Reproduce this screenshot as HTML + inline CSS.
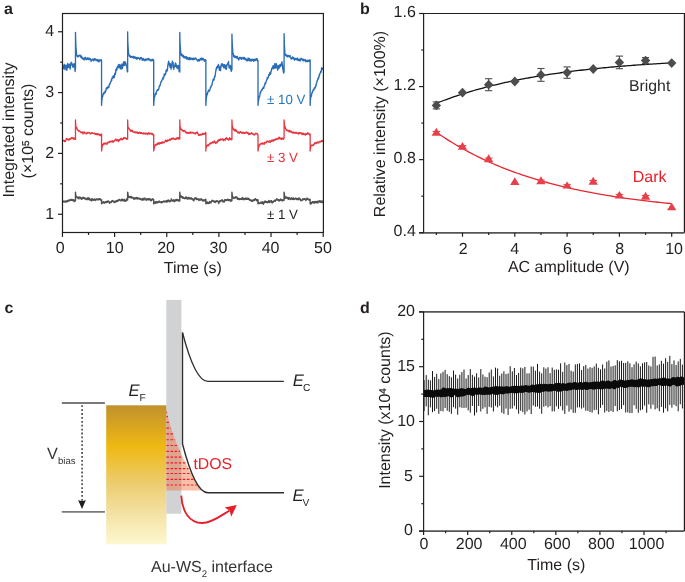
<!DOCTYPE html>
<html><head><meta charset="utf-8"><style>
html,body{margin:0;padding:0;background:#fff;overflow:hidden;}
svg{display:block;font-family:"Liberation Sans", sans-serif;text-rendering:geometricPrecision;will-change:transform;}
</style></head><body>
<svg width="685" height="582" viewBox="0 0 685 582">
<path d="M62.45,201.43 L62.58,201.76 L62.71,201.56 L62.84,201.23 L62.97,201.56 L63.1,201.6 L63.23,201.25 L63.36,201.39 L63.49,201.27 L63.62,201.29 L63.75,201.62 L63.88,201.48 L64.01,201.95 L64.14,201.69 L64.28,201.45 L64.41,201.22 L64.54,201.64 L64.67,201.72 L64.8,201.58 L64.93,201.62 L65.06,201.2 L65.19,201.56 L65.32,201.64 L65.45,201.28 L65.58,202.13 L65.71,201.67 L65.84,201.95 L65.97,201.9 L66.1,201.59 L66.23,201.44 L66.36,201.04 L66.49,200.96 L66.62,201.42 L66.75,201.53 L66.88,201.21 L67.01,201.13 L67.14,201.78 L67.27,201.72 L67.4,201.77 L67.53,201.22 L67.67,201.24 L67.8,200.69 L67.93,200.44 L68.06,201.2 L68.19,200.87 L68.32,200.61 L68.45,200.24 L68.58,200.17 L68.71,200.07 L68.84,200.33 L68.97,200.75 L69.1,200.6 L69.23,200.5 L69.36,200.64 L69.49,200.75 L69.62,200.34 L69.75,200.78 L69.88,200.52 L70.01,200.03 L70.14,199.56 L70.27,200.08 L70.4,199.96 L70.53,199.81 L70.66,200.35 L70.79,200.19 L70.92,200.09 L71.05,199.83 L71.19,199.79 L71.32,199.79 L71.45,200.21 L71.58,199.46 L71.71,200.31 L71.84,199.99 L71.97,200.02 L72.1,199.59 L72.23,200.17 L72.36,200.43 L72.49,199.7 L72.62,200.04 L72.75,199.97 L72.88,200.42 L73.01,200.02 L73.14,200.24 L73.27,199.86 L73.4,200.43 L73.53,200.47 L73.66,200.68 L73.79,199.89 L73.92,200.14 L74.05,200.36 L74.18,201.58 L74.31,200.52 L74.44,200.24 L74.57,200.2 L74.71,200.59 L74.84,201.1 L74.97,200.83 L75.1,200.68 L75.23,200.21 L75.36,200.45 L75.49,200.86 L75.49,192.34 L75.62,194 L75.75,195.31 L75.88,195.41 L76.01,195.84 L76.14,196.47 L76.27,196.98 L76.4,197.09 L76.53,196.96 L76.66,197.08 L76.79,196.8 L76.92,197.1 L77.05,196.81 L77.18,197.41 L77.31,197.76 L77.44,197.64 L77.57,197.29 L77.7,198 L77.83,197.87 L77.96,198.02 L78.09,197.55 L78.23,197.9 L78.36,197.66 L78.49,197.28 L78.62,197.95 L78.75,198.82 L78.88,198.82 L79.01,197.83 L79.14,198.09 L79.27,197.56 L79.4,197.38 L79.53,197.31 L79.66,197.03 L79.79,197.09 L79.92,197.23 L80.05,197.84 L80.18,197.29 L80.31,197.52 L80.44,197.68 L80.57,197.7 L80.7,198.48 L80.83,197.72 L80.96,198.72 L81.09,198.42 L81.22,198.38 L81.35,199.17 L81.48,198.33 L81.62,198.64 L81.75,198.37 L81.88,198.44 L82.01,198.15 L82.14,198.44 L82.27,197.88 L82.4,198.33 L82.53,198.35 L82.66,198.77 L82.79,198.73 L82.92,198.65 L83.05,198.13 L83.18,197.31 L83.31,197.56 L83.44,197.5 L83.57,197.52 L83.7,197.96 L83.83,198.05 L83.96,197.93 L84.09,198.17 L84.22,197.82 L84.35,198.53 L84.48,198.62 L84.61,198.7 L84.74,198.73 L84.87,198.34 L85,198.51 L85.14,198.76 L85.27,198.12 L85.4,198.79 L85.53,198.87 L85.66,199.19 L85.79,198.8 L85.92,198.85 L86.05,198.41 L86.18,198.5 L86.31,198.97 L86.44,198.71 L86.57,199.28 L86.7,199.49 L86.83,199.62 L86.96,199.28 L87.09,198.93 L87.22,198.9 L87.35,198.81 L87.48,198.21 L87.61,198.38 L87.74,198.1 L87.87,197.75 L88,198.5 L88.13,199.24 L88.26,199.53 L88.39,199.01 L88.53,199.05 L88.66,199.14 L88.79,198.53 L88.92,198.74 L89.05,198.04 L89.18,198.58 L89.31,198.84 L89.44,198.34 L89.57,198.48 L89.7,199.4 L89.83,199.68 L89.96,199.77 L90.09,200.18 L90.22,199.33 L90.35,199.77 L90.48,199.45 L90.61,199.74 L90.74,199.56 L90.87,200.07 L91,200.14 L91.13,200.39 L91.26,200.63 L91.39,200.36 L91.52,200.22 L91.65,199.95 L91.78,200.76 L91.91,199.89 L92.05,198.57 L92.18,198.78 L92.31,198.92 L92.44,199.05 L92.57,199.74 L92.7,199.6 L92.83,199.7 L92.96,199.61 L93.09,199.93 L93.22,200.26 L93.35,199.72 L93.48,200.07 L93.61,199.51 L93.74,199.99 L93.87,199.94 L94,199.61 L94.13,199.41 L94.26,199.01 L94.39,199.86 L94.52,199.68 L94.65,199.94 L94.78,199.28 L94.91,199.45 L95.04,200.23 L95.17,200.35 L95.3,200.44 L95.43,199.88 L95.57,200.06 L95.7,199.89 L95.83,199.49 L95.96,199.58 L96.09,199.16 L96.22,199.06 L96.35,199.22 L96.48,199.68 L96.61,199.18 L96.74,199.51 L96.87,199.45 L97,199.11 L97.13,199.15 L97.26,199.02 L97.39,199.7 L97.52,199.2 L97.65,199.4 L97.78,199.57 L97.91,199.3 L98.04,199.73 L98.17,199.26 L98.3,199.3 L98.43,198.92 L98.56,199.26 L98.69,199.63 L98.82,199.35 L98.95,199.65 L99.09,199.05 L99.22,199.24 L99.35,198.83 L99.48,198.88 L99.61,198.79 L99.74,198.74 L99.87,198.95 L100,198.66 L100.13,198.91 L100.26,199.67 L100.39,199.67 L100.52,199.48 L100.65,200.1 L100.78,199.88 L100.91,200.14 L101.04,199.84 L101.17,199.95 L101.3,200.19 L101.43,199.84 L101.56,199.95 L101.56,203.78 L101.69,203.69 L101.82,203.06 L101.95,202.2 L102.08,202.01 L102.21,202.2 L102.34,202.46 L102.48,202.4 L102.61,202.86 L102.74,202.59 L102.87,202.59 L103,202.85 L103.13,202.42 L103.26,202.22 L103.39,202.26 L103.52,201.74 L103.65,202.18 L103.78,202.89 L103.91,202.35 L104.04,202.39 L104.17,202.57 L104.3,203.15 L104.43,203.04 L104.56,202.83 L104.69,203.04 L104.82,202.72 L104.95,202.32 L105.08,202.05 L105.21,201.86 L105.34,202.23 L105.47,202.42 L105.6,202.3 L105.73,202.24 L105.86,202.17 L106,201.85 L106.13,201.9 L106.26,201.73 L106.39,201.44 L106.52,202 L106.65,201.93 L106.78,202.44 L106.91,202.36 L107.04,201.68 L107.17,201.72 L107.3,201.41 L107.43,201.35 L107.56,201.69 L107.69,202.13 L107.82,201.66 L107.95,201.46 L108.08,200.93 L108.21,201.27 L108.34,201.65 L108.47,201.24 L108.6,201.62 L108.73,201.22 L108.86,201.8 L108.99,201.64 L109.12,201.65 L109.25,201.67 L109.39,203.24 L109.52,202.47 L109.65,202.47 L109.78,202.29 L109.91,202.55 L110.04,202.37 L110.17,202.46 L110.3,202.47 L110.43,202.29 L110.56,202.46 L110.69,202.16 L110.82,202.03 L110.95,202.28 L111.08,201.77 L111.21,202.39 L111.34,202.31 L111.47,201.79 L111.6,201.18 L111.73,201.03 L111.86,200.99 L111.99,201.26 L112.12,200.54 L112.25,201.09 L112.38,201.27 L112.51,201.12 L112.64,200.81 L112.77,201.11 L112.91,201.1 L113.04,201.01 L113.17,201.03 L113.3,201.71 L113.43,201.16 L113.56,201.21 L113.69,201.18 L113.82,201.41 L113.95,201.76 L114.08,201.86 L114.21,201.92 L114.34,202.5 L114.47,202 L114.6,201.89 L114.73,201.94 L114.86,202.33 L114.99,201.67 L115.12,201.35 L115.25,201.79 L115.38,201.82 L115.51,201.75 L115.64,201.99 L115.77,201.44 L115.9,201.19 L116.03,201.47 L116.16,200.7 L116.29,201.11 L116.43,201.22 L116.56,201.38 L116.69,201.47 L116.82,201.02 L116.95,201.2 L117.08,201.27 L117.21,200.66 L117.34,200.5 L117.47,200.88 L117.6,201.36 L117.73,200.12 L117.86,200.33 L117.99,200.19 L118.12,200.21 L118.25,200.11 L118.38,200.72 L118.51,200.44 L118.64,200.57 L118.77,200.62 L118.9,200.09 L119.03,199.86 L119.16,199.63 L119.29,199.83 L119.42,199.53 L119.55,199.55 L119.68,199.49 L119.81,199.52 L119.95,199.93 L120.08,199.95 L120.21,200.21 L120.34,200.04 L120.47,200.04 L120.6,200.14 L120.73,200.21 L120.86,200.44 L120.99,200.9 L121.12,199.88 L121.25,200.59 L121.38,199.89 L121.51,200.33 L121.64,199.66 L121.77,199.22 L121.9,199.72 L122.03,199.08 L122.16,199.29 L122.29,199.29 L122.42,199.68 L122.55,200.05 L122.68,200.08 L122.81,200.09 L122.94,200.82 L123.07,200.34 L123.2,200.1 L123.34,200.59 L123.47,200.77 L123.6,200.51 L123.73,200.66 L123.86,200.77 L123.99,200.57 L124.12,199.35 L124.25,199.29 L124.38,199.79 L124.51,200.28 L124.64,200.63 L124.77,200.57 L124.9,200.26 L125.03,201.18 L125.16,200.85 L125.29,200.51 L125.42,200.95 L125.55,201.15 L125.68,200.88 L125.81,200.43 L125.94,201.08 L126.07,201.01 L126.2,200.91 L126.33,200.24 L126.46,200.21 L126.59,198.93 L126.72,199.64 L126.86,199.87 L126.99,199.96 L127.12,199.27 L127.25,200.13 L127.38,199.35 L127.51,199.44 L127.64,199.96 L127.64,192.34 L127.77,192.42 L127.9,194.24 L128.03,194.58 L128.16,196.44 L128.29,196.3 L128.42,197.02 L128.55,197.17 L128.68,196.65 L128.81,196.36 L128.94,196.65 L129.07,196.42 L129.2,196.57 L129.33,196.73 L129.46,197.38 L129.59,197.48 L129.72,196.7 L129.85,196.91 L129.98,196.95 L130.11,197.06 L130.25,197.12 L130.38,197.56 L130.51,196.83 L130.64,196.86 L130.77,196.81 L130.9,196.99 L131.03,196.38 L131.16,197.35 L131.29,197.22 L131.42,197.72 L131.55,197.82 L131.68,197.59 L131.81,197.19 L131.94,198 L132.07,198.02 L132.2,197.24 L132.33,197.77 L132.46,197.88 L132.59,197.73 L132.72,197.94 L132.85,197.77 L132.98,198.04 L133.11,197.59 L133.24,197.61 L133.37,198.02 L133.5,198.02 L133.63,198.22 L133.77,198.77 L133.9,198.76 L134.03,199.23 L134.16,198.12 L134.29,198.17 L134.42,198.45 L134.55,197.88 L134.68,198.42 L134.81,198.64 L134.94,198.08 L135.07,198.31 L135.2,197.86 L135.33,198.41 L135.46,198.73 L135.59,198.74 L135.72,198.32 L135.85,198.25 L135.98,198.06 L136.11,197.75 L136.24,198.26 L136.37,198.38 L136.5,198.05 L136.63,197.71 L136.76,198.37 L136.89,197.5 L137.02,198.48 L137.15,198.48 L137.29,198.41 L137.42,198.98 L137.55,198.83 L137.68,198.63 L137.81,197.94 L137.94,198.45 L138.07,198.24 L138.2,198.49 L138.33,198.45 L138.46,198.49 L138.59,198.75 L138.72,198.16 L138.85,198.09 L138.98,198.5 L139.11,198.66 L139.24,198.36 L139.37,198.95 L139.5,198.76 L139.63,198.48 L139.76,198.81 L139.89,199.33 L140.02,199.36 L140.15,198.86 L140.28,198.92 L140.41,198.75 L140.54,198.8 L140.68,199.04 L140.81,198.6 L140.94,198.97 L141.07,199.12 L141.2,199.04 L141.33,198.96 L141.46,199.84 L141.59,199.57 L141.72,199.98 L141.85,199.59 L141.98,199.26 L142.11,199.6 L142.24,199.47 L142.37,199.94 L142.5,198.68 L142.63,198.86 L142.76,199.03 L142.89,198.52 L143.02,198.62 L143.15,198.88 L143.28,198.53 L143.41,199 L143.54,199.43 L143.67,199.36 L143.8,199.64 L143.93,200.06 L144.06,199.38 L144.2,199.03 L144.33,198.75 L144.46,198.62 L144.59,198.39 L144.72,198.53 L144.85,197.9 L144.98,198.1 L145.11,198.54 L145.24,198.94 L145.37,199.05 L145.5,199.02 L145.63,199.22 L145.76,199.28 L145.89,199.56 L146.02,200 L146.15,199.98 L146.28,200.19 L146.41,199.08 L146.54,199.97 L146.67,199.31 L146.8,199.36 L146.93,199.45 L147.06,199.19 L147.19,199.22 L147.32,198.74 L147.45,199.36 L147.58,199.17 L147.72,199.03 L147.85,199.1 L147.98,199.99 L148.11,199.75 L148.24,199.64 L148.37,198.98 L148.5,199.05 L148.63,198.83 L148.76,198.87 L148.89,198.84 L149.02,198.87 L149.15,198.96 L149.28,199.74 L149.41,199.58 L149.54,198.74 L149.67,199.06 L149.8,199.53 L149.93,199.31 L150.06,199.59 L150.19,199.74 L150.32,199.08 L150.45,199.8 L150.58,200.08 L150.71,199.92 L150.84,200.17 L150.97,200.8 L151.11,200.24 L151.24,200.8 L151.37,200.28 L151.5,199.63 L151.63,200.5 L151.76,200.38 L151.89,199.6 L152.02,199.54 L152.15,199.08 L152.28,199.16 L152.41,198.97 L152.54,199.28 L152.67,198.95 L152.8,198.86 L152.93,198.98 L153.06,199.43 L153.19,199.56 L153.32,199.29 L153.45,199.72 L153.58,199.64 L153.71,199.8 L153.71,203.78 L153.84,202.99 L153.97,202.28 L154.1,202.9 L154.23,202.94 L154.36,202.78 L154.49,202.82 L154.63,202.72 L154.76,203 L154.89,202.85 L155.02,203.12 L155.15,202.48 L155.28,202.17 L155.41,201.78 L155.54,201.87 L155.67,202.92 L155.8,202.55 L155.93,203.24 L156.06,202.56 L156.19,202.26 L156.32,201.84 L156.45,202.11 L156.58,201.78 L156.71,201.66 L156.84,201.85 L156.97,201.62 L157.1,201.82 L157.23,201.8 L157.36,202.11 L157.49,202.5 L157.62,202.26 L157.75,202.19 L157.88,202.8 L158.01,202.41 L158.15,202.19 L158.28,202.16 L158.41,202.3 L158.54,201.98 L158.67,201.39 L158.8,201.87 L158.93,201.27 L159.06,200.93 L159.19,201.4 L159.32,202.14 L159.45,201.51 L159.58,201.87 L159.71,201.8 L159.84,201.72 L159.97,202.24 L160.1,202.18 L160.23,202.2 L160.36,202.02 L160.49,201.91 L160.62,202.28 L160.75,202.35 L160.88,202.56 L161.01,202.42 L161.14,202.14 L161.27,202.69 L161.4,201.69 L161.53,201.84 L161.67,202 L161.8,202.17 L161.93,201.95 L162.06,202.15 L162.19,201.71 L162.32,202.52 L162.45,202.24 L162.58,201.86 L162.71,201.98 L162.84,201.69 L162.97,201.51 L163.1,201.85 L163.23,201.71 L163.36,201.21 L163.49,201.39 L163.62,201.31 L163.75,201.16 L163.88,201.42 L164.01,201.64 L164.14,201.43 L164.27,201.85 L164.4,201.41 L164.53,201.26 L164.66,201.31 L164.79,201.04 L164.92,201.92 L165.06,201.52 L165.19,201.4 L165.32,201.72 L165.45,201.45 L165.58,201.76 L165.71,201.61 L165.84,201.8 L165.97,200.97 L166.1,201.64 L166.23,201.11 L166.36,200.81 L166.49,201.37 L166.62,201.37 L166.75,201.93 L166.88,201.98 L167.01,200.99 L167.14,200.65 L167.27,200.39 L167.4,200.83 L167.53,200.4 L167.66,201.39 L167.79,201.66 L167.92,201.3 L168.05,200.99 L168.18,200.54 L168.31,200.04 L168.44,200.33 L168.58,201.02 L168.71,200.74 L168.84,200.68 L168.97,200.58 L169.1,200.51 L169.23,200.67 L169.36,200.75 L169.49,200.73 L169.62,201.25 L169.75,201.45 L169.88,201.92 L170.01,201.43 L170.14,201.6 L170.27,201.16 L170.4,200.6 L170.53,200.58 L170.66,200.63 L170.79,200.38 L170.92,200.38 L171.05,200.56 L171.18,199.96 L171.31,198.88 L171.44,199.97 L171.57,200.27 L171.7,200.47 L171.83,200.16 L171.97,200.9 L172.1,201.02 L172.23,200.83 L172.36,200.88 L172.49,200.45 L172.62,200.18 L172.75,200.84 L172.88,200.77 L173.01,200.26 L173.14,201.12 L173.27,199.99 L173.4,199.94 L173.53,200.27 L173.66,200 L173.79,201.05 L173.92,200.48 L174.05,200.77 L174.18,201.02 L174.31,201.54 L174.44,201.49 L174.57,200.89 L174.7,201.43 L174.83,200.78 L174.96,200.86 L175.09,199.98 L175.22,200.99 L175.35,200.52 L175.49,200.81 L175.62,200.6 L175.75,200.16 L175.88,200.55 L176.01,199.53 L176.14,200.51 L176.27,200.33 L176.4,200.28 L176.53,200.07 L176.66,200.39 L176.79,200.62 L176.92,199.83 L177.05,199.37 L177.18,200.14 L177.31,199.82 L177.44,200.09 L177.57,200.28 L177.7,199.62 L177.83,199.62 L177.96,199.9 L178.09,200.76 L178.22,200.44 L178.35,200.14 L178.48,200.19 L178.61,199.89 L178.74,200 L178.87,200.23 L179.01,201.07 L179.14,199.96 L179.27,200.46 L179.4,200.68 L179.53,201.02 L179.66,200.68 L179.79,200.65 L179.79,192.34 L179.92,193.64 L180.05,195.27 L180.18,195.39 L180.31,196.71 L180.44,197.21 L180.57,195.96 L180.7,196.3 L180.83,196.67 L180.96,195.93 L181.09,196 L181.22,196.71 L181.35,196.46 L181.48,196.43 L181.61,196.94 L181.74,197.14 L181.87,197.46 L182,197.47 L182.13,197.35 L182.26,197.34 L182.39,196.76 L182.53,197.12 L182.66,197.86 L182.79,198.05 L182.92,198.26 L183.05,198.37 L183.18,198.34 L183.31,198.27 L183.44,197.45 L183.57,197.5 L183.7,197.33 L183.83,197.53 L183.96,197.5 L184.09,197.85 L184.22,198.03 L184.35,198.01 L184.48,198.32 L184.61,198.48 L184.74,198.77 L184.87,198.7 L185,198.39 L185.13,198.28 L185.26,198.09 L185.39,198.39 L185.52,198.18 L185.65,197.45 L185.78,198.07 L185.92,197.01 L186.05,197.62 L186.18,197.63 L186.31,197.45 L186.44,197.37 L186.57,197.69 L186.7,198.51 L186.83,198.02 L186.96,197.46 L187.09,197.96 L187.22,198.48 L187.35,199.04 L187.48,198.18 L187.61,198.18 L187.74,198.58 L187.87,198.08 L188,197.94 L188.13,198.68 L188.26,198.39 L188.39,198.16 L188.52,198.77 L188.65,197.93 L188.78,197.61 L188.91,197.75 L189.04,197.49 L189.17,198.22 L189.3,198.5 L189.44,198.78 L189.57,198.69 L189.7,198.18 L189.83,198.34 L189.96,198.35 L190.09,198.37 L190.22,198.4 L190.35,198.24 L190.48,198.04 L190.61,198.93 L190.74,198.77 L190.87,198.84 L191,198.91 L191.13,198.1 L191.26,198.26 L191.39,197.94 L191.52,199.06 L191.65,198.48 L191.78,198.99 L191.91,198.99 L192.04,198.77 L192.17,198.91 L192.3,199.09 L192.43,199.15 L192.56,199.24 L192.69,198.65 L192.82,198.75 L192.96,199.2 L193.09,200.08 L193.22,200.22 L193.35,200.13 L193.48,200.18 L193.61,200.41 L193.74,200.63 L193.87,200.85 L194,199.76 L194.13,199.61 L194.26,199.65 L194.39,199.04 L194.52,199.4 L194.65,198.9 L194.78,198.47 L194.91,198.09 L195.04,198.45 L195.17,198.1 L195.3,198.09 L195.43,198.13 L195.56,198.52 L195.69,197.62 L195.82,198.06 L195.95,198.58 L196.08,198.41 L196.21,199.01 L196.35,198.89 L196.48,198.33 L196.61,199.29 L196.74,199.07 L196.87,199.51 L197,199.28 L197.13,199.07 L197.26,198.92 L197.39,199.14 L197.52,198.89 L197.65,199.25 L197.78,198.96 L197.91,199.09 L198.04,198.94 L198.17,199.61 L198.3,199.27 L198.43,198.87 L198.56,199.41 L198.69,199.88 L198.82,200.21 L198.95,200.54 L199.08,200.4 L199.21,199.87 L199.34,199.89 L199.47,199.61 L199.6,199.62 L199.73,199.1 L199.87,199.17 L200,199.69 L200.13,199.8 L200.26,199.68 L200.39,199.41 L200.52,199.8 L200.65,200.12 L200.78,199.46 L200.91,199.5 L201.04,199.71 L201.17,198.85 L201.3,199.84 L201.43,199.69 L201.56,199 L201.69,199.7 L201.82,199.68 L201.95,200.09 L202.08,199.98 L202.21,199.94 L202.34,200.37 L202.47,200.29 L202.6,199.93 L202.73,200.56 L202.86,200.26 L202.99,201.03 L203.12,200.48 L203.25,200.63 L203.39,200.89 L203.52,200.64 L203.65,200.11 L203.78,200.34 L203.91,199.93 L204.04,200.26 L204.17,200.48 L204.3,199.97 L204.43,200.47 L204.56,200.27 L204.69,200.66 L204.82,200.56 L204.95,200.59 L205.08,200.67 L205.21,200 L205.34,199.71 L205.47,199.99 L205.6,199.15 L205.73,199.34 L205.86,199.46 L205.86,203.78 L205.99,202.51 L206.12,202.34 L206.25,202.73 L206.38,202.31 L206.51,202.71 L206.64,203.01 L206.78,203.59 L206.91,203.09 L207.04,202.84 L207.17,202.75 L207.3,202.04 L207.43,202.93 L207.56,202.36 L207.69,202.88 L207.82,202.48 L207.95,203.18 L208.08,203.17 L208.21,203.37 L208.34,203.6 L208.47,203.42 L208.6,203.05 L208.73,203.3 L208.86,202.6 L208.99,202.6 L209.12,202.65 L209.25,203.33 L209.38,202.55 L209.51,201.5 L209.64,202.02 L209.77,202.43 L209.9,202.42 L210.03,202.56 L210.16,202.65 L210.3,202.41 L210.43,202.84 L210.56,202.29 L210.69,202.05 L210.82,202.65 L210.95,202.29 L211.08,202.76 L211.21,201.94 L211.34,201.53 L211.47,201.47 L211.6,201.21 L211.73,200.87 L211.86,201.03 L211.99,201.02 L212.12,200.84 L212.25,200.28 L212.38,200.34 L212.51,200.94 L212.64,201 L212.77,201.15 L212.9,200.81 L213.03,200.93 L213.16,200.85 L213.29,200.92 L213.42,201.18 L213.55,201.14 L213.69,201.57 L213.82,201.48 L213.95,200.92 L214.08,201.92 L214.21,201.64 L214.34,202.05 L214.47,201.8 L214.6,201.74 L214.73,201.65 L214.86,201.99 L214.99,202.21 L215.12,201.67 L215.25,201.27 L215.38,202.26 L215.51,202.47 L215.64,202.03 L215.77,202.25 L215.9,201.43 L216.03,201.28 L216.16,201.12 L216.29,200.98 L216.42,200.87 L216.55,201.05 L216.68,201.35 L216.81,201.33 L216.94,201.18 L217.07,201.25 L217.21,201.05 L217.34,200.69 L217.47,201.03 L217.6,200.93 L217.73,201.24 L217.86,201.16 L217.99,201.14 L218.12,201.62 L218.25,201.79 L218.38,201.92 L218.51,202.86 L218.64,202.61 L218.77,203.45 L218.9,202.3 L219.03,202.67 L219.16,201.43 L219.29,201.97 L219.42,201.65 L219.55,201.89 L219.68,201.65 L219.81,201.22 L219.94,201.2 L220.07,200.43 L220.2,200.9 L220.33,201.04 L220.46,200.84 L220.59,201.43 L220.73,200.89 L220.86,200.83 L220.99,200.73 L221.12,200.67 L221.25,200.42 L221.38,200.65 L221.51,200.39 L221.64,200.75 L221.77,200.78 L221.9,200.56 L222.03,199.84 L222.16,199.75 L222.29,200.22 L222.42,199.94 L222.55,200.61 L222.68,201.78 L222.81,201.39 L222.94,200.72 L223.07,200.73 L223.2,200.86 L223.33,201.38 L223.46,201.09 L223.59,201.71 L223.72,201.8 L223.85,201.94 L223.98,201.54 L224.12,201.97 L224.25,201.52 L224.38,201.04 L224.51,201.12 L224.64,200.86 L224.77,200.76 L224.9,199.51 L225.03,199.93 L225.16,200.47 L225.29,200.04 L225.42,200.16 L225.55,200.4 L225.68,200.13 L225.81,199.82 L225.94,200.02 L226.07,200.38 L226.2,200.58 L226.33,200.23 L226.46,199.9 L226.59,199.67 L226.72,200.09 L226.85,199.97 L226.98,199.96 L227.11,200.04 L227.24,199.92 L227.37,199.68 L227.5,199.17 L227.64,199.32 L227.77,199.31 L227.9,200.23 L228.03,200.52 L228.16,199.41 L228.29,200.13 L228.42,200.56 L228.55,199.99 L228.68,199.87 L228.81,200.06 L228.94,199.83 L229.07,199.72 L229.2,200.3 L229.33,199.76 L229.46,199.78 L229.59,200.46 L229.72,199.74 L229.85,200.08 L229.98,200.42 L230.11,200.61 L230.24,200.12 L230.37,200.96 L230.5,199.79 L230.63,200.45 L230.76,200.61 L230.89,201 L231.02,200.86 L231.16,200.36 L231.29,200.39 L231.42,200.99 L231.55,200.92 L231.68,200.16 L231.81,199.98 L231.94,200.6 L231.94,192.34 L232.07,193.82 L232.2,195.08 L232.33,195.83 L232.46,197.19 L232.59,196.8 L232.72,196.48 L232.85,196.63 L232.98,197.75 L233.11,197.73 L233.24,197.58 L233.37,197.51 L233.5,197.4 L233.63,197.76 L233.76,197.96 L233.89,198.4 L234.02,198.1 L234.15,197.8 L234.28,198.32 L234.41,197.96 L234.55,198.09 L234.68,197.53 L234.81,197.78 L234.94,197.4 L235.07,197.94 L235.2,197.89 L235.33,197.29 L235.46,196.97 L235.59,197.56 L235.72,197.59 L235.85,197.58 L235.98,197.65 L236.11,196.75 L236.24,197.18 L236.37,196.91 L236.5,197.28 L236.63,197.13 L236.76,197.39 L236.89,197.22 L237.02,197.27 L237.15,197.62 L237.28,198.93 L237.41,198.84 L237.54,197.99 L237.67,198.54 L237.8,198.77 L237.93,198.68 L238.07,199.18 L238.2,198.76 L238.33,198.8 L238.46,198.88 L238.59,198.5 L238.72,198.58 L238.85,198.85 L238.98,199.42 L239.11,199.36 L239.24,199.02 L239.37,199.54 L239.5,198.7 L239.63,199.36 L239.76,198.84 L239.89,198.58 L240.02,198.75 L240.15,198.77 L240.28,199.06 L240.41,198.76 L240.54,199.12 L240.67,199.22 L240.8,199.01 L240.93,199.35 L241.06,198.77 L241.19,198.79 L241.32,199.2 L241.45,199.14 L241.59,198.79 L241.72,198.62 L241.85,198.86 L241.98,199.5 L242.11,198.89 L242.24,198.84 L242.37,198.17 L242.5,197.56 L242.63,198.78 L242.76,198.33 L242.89,198.99 L243.02,198.56 L243.15,198.73 L243.28,199.16 L243.41,199.22 L243.54,198.44 L243.67,198.96 L243.8,199.46 L243.93,199.07 L244.06,198.54 L244.19,199.71 L244.32,199.04 L244.45,199.16 L244.58,198.98 L244.71,199.06 L244.84,199.23 L244.98,199.1 L245.11,199.15 L245.24,199.26 L245.37,198.61 L245.5,198.16 L245.63,198.13 L245.76,198.23 L245.89,198.22 L246.02,198.34 L246.15,199.14 L246.28,198.24 L246.41,198.78 L246.54,199.39 L246.67,199.39 L246.8,198.74 L246.93,198.97 L247.06,198.64 L247.19,198.88 L247.32,198.25 L247.45,198.64 L247.58,198.54 L247.71,198.85 L247.84,198.8 L247.97,199.29 L248.1,198.79 L248.23,198.27 L248.36,198.99 L248.5,199.24 L248.63,199.16 L248.76,199.55 L248.89,199.11 L249.02,199.28 L249.15,198.93 L249.28,199.23 L249.41,199.42 L249.54,199.74 L249.67,199.97 L249.8,200.19 L249.93,200.41 L250.06,199.98 L250.19,200.55 L250.32,199.76 L250.45,199.98 L250.58,200.17 L250.71,200.59 L250.84,200.17 L250.97,200.32 L251.1,200.34 L251.23,200.41 L251.36,200.06 L251.49,200.83 L251.62,200.49 L251.75,200.65 L251.88,201.34 L252.02,200.79 L252.15,200.58 L252.28,200.44 L252.41,200.71 L252.54,200.82 L252.67,200.75 L252.8,201.13 L252.93,200.15 L253.06,200.72 L253.19,200.27 L253.32,199.86 L253.45,199.7 L253.58,200.04 L253.71,200.23 L253.84,200.22 L253.97,199.67 L254.1,199.85 L254.23,200.05 L254.36,200.5 L254.49,199.96 L254.62,199.81 L254.75,200 L254.88,199.1 L255.01,198.88 L255.14,199.7 L255.27,199.75 L255.4,198.84 L255.54,199.18 L255.67,199.28 L255.8,199.65 L255.93,199.27 L256.06,199.26 L256.19,199.89 L256.32,200.03 L256.45,200.08 L256.58,200.27 L256.71,199.9 L256.84,199.96 L256.97,199.63 L257.1,200.66 L257.23,200.84 L257.36,201.44 L257.49,200.71 L257.62,200.12 L257.75,199.78 L257.88,199.66 L258.01,199.96 L258.01,203.78 L258.14,203.21 L258.27,202.78 L258.4,202.72 L258.53,202.6 L258.66,202.63 L258.79,203.12 L258.93,203.3 L259.06,203.28 L259.19,203.15 L259.32,203.53 L259.45,203.56 L259.58,203.32 L259.71,203.39 L259.84,202.96 L259.97,203.17 L260.1,203.16 L260.23,203.18 L260.36,203.22 L260.49,202.86 L260.62,202.32 L260.75,202.89 L260.88,202.64 L261.01,202.3 L261.14,202.56 L261.27,202.46 L261.4,202.67 L261.53,202.67 L261.66,203.01 L261.79,203.1 L261.92,203.51 L262.05,202.92 L262.18,201.84 L262.31,201.81 L262.45,202.09 L262.58,202.65 L262.71,202.25 L262.84,202.92 L262.97,203.06 L263.1,203.48 L263.23,203.65 L263.36,204.19 L263.49,203.35 L263.62,202.71 L263.75,203.17 L263.88,201.97 L264.01,202.96 L264.14,202.52 L264.27,202.08 L264.4,202.18 L264.53,202.76 L264.66,202.27 L264.79,201.33 L264.92,201.76 L265.05,202.07 L265.18,200.94 L265.31,201.55 L265.44,201.39 L265.57,202.1 L265.7,201.38 L265.83,202 L265.97,201.7 L266.1,202.48 L266.23,202.05 L266.36,201.8 L266.49,201.76 L266.62,202.17 L266.75,201.67 L266.88,201.62 L267.01,201.69 L267.14,201.53 L267.27,201.61 L267.4,202.31 L267.53,202.6 L267.66,202.16 L267.79,202.14 L267.92,202.34 L268.05,202.64 L268.18,202.06 L268.31,201.79 L268.44,201.57 L268.57,201.25 L268.7,201.24 L268.83,200.55 L268.96,201.73 L269.09,201.64 L269.22,201.41 L269.36,200.84 L269.49,201.39 L269.62,202.44 L269.75,201.58 L269.88,202.24 L270.01,201.78 L270.14,202.09 L270.27,202.04 L270.4,201.16 L270.53,201.58 L270.66,201.07 L270.79,201.05 L270.92,201.22 L271.05,200.71 L271.18,201.28 L271.31,201.06 L271.44,201.4 L271.57,200.74 L271.7,201.8 L271.83,202.5 L271.96,202.13 L272.09,201.38 L272.22,202.29 L272.35,202.84 L272.48,202.55 L272.61,202.52 L272.74,202.19 L272.88,201.63 L273.01,202.24 L273.14,202.11 L273.27,201.56 L273.4,201.68 L273.53,201.44 L273.66,201.3 L273.79,200.92 L273.92,200.96 L274.05,200.85 L274.18,200.94 L274.31,200.82 L274.44,200.58 L274.57,200.36 L274.7,200.17 L274.83,200.15 L274.96,200.1 L275.09,200.69 L275.22,200.77 L275.35,201.3 L275.48,200.85 L275.61,200.67 L275.74,200.17 L275.87,200.08 L276,200.16 L276.13,200.18 L276.26,199.64 L276.4,199.77 L276.53,198.97 L276.66,199.49 L276.79,199.09 L276.92,199.48 L277.05,199.46 L277.18,199.4 L277.31,199.21 L277.44,199.5 L277.57,199.88 L277.7,199.41 L277.83,199.91 L277.96,200.18 L278.09,200.36 L278.22,200.24 L278.35,200.06 L278.48,199.62 L278.61,200.38 L278.74,200.24 L278.87,200.77 L279,200.75 L279.13,201.02 L279.26,200.13 L279.39,200.81 L279.52,200.53 L279.65,199.97 L279.79,200.06 L279.92,200.27 L280.05,200.55 L280.18,199.27 L280.31,199.13 L280.44,199.58 L280.57,199.15 L280.7,199.58 L280.83,199.6 L280.96,199.42 L281.09,200 L281.22,199.74 L281.35,199.99 L281.48,199.77 L281.61,199.71 L281.74,200.44 L281.87,200.31 L282,200.37 L282.13,200.2 L282.26,200.54 L282.39,200.75 L282.52,200.06 L282.65,200.87 L282.78,199.7 L282.91,200.5 L283.04,200 L283.17,199.97 L283.31,199.93 L283.44,199.95 L283.57,199.89 L283.7,199.78 L283.83,199.95 L283.96,200.25 L284.09,199.92 L284.09,192.34 L284.22,193.77 L284.35,194.24 L284.48,195.37 L284.61,196.41 L284.74,197.05 L284.87,197.17 L285,197.32 L285.13,197.22 L285.26,198.23 L285.39,197.13 L285.52,197.12 L285.65,196.96 L285.78,197.04 L285.91,197.34 L286.04,197.16 L286.17,196.88 L286.3,196.93 L286.43,197.67 L286.56,197.22 L286.69,197.6 L286.83,197.21 L286.96,197.95 L287.09,198.32 L287.22,198.17 L287.35,197.91 L287.48,198.45 L287.61,197.99 L287.74,197.68 L287.87,198.29 L288,198.33 L288.13,198.38 L288.26,198.91 L288.39,198.75 L288.52,199.36 L288.65,198.49 L288.78,198.37 L288.91,198.18 L289.04,197.55 L289.17,197.85 L289.3,198.58 L289.43,197.97 L289.56,198.83 L289.69,198.55 L289.82,198.35 L289.95,198.85 L290.08,198.98 L290.22,198.52 L290.35,198.79 L290.48,199.07 L290.61,199.48 L290.74,199.54 L290.87,199.43 L291,199.14 L291.13,198.93 L291.26,198.03 L291.39,198.49 L291.52,198.36 L291.65,198.01 L291.78,198.39 L291.91,198.6 L292.04,198.59 L292.17,198.42 L292.3,198.65 L292.43,198.63 L292.56,199.39 L292.69,198.67 L292.82,198.69 L292.95,199.26 L293.08,199.38 L293.21,198.59 L293.34,197.96 L293.47,198.59 L293.6,198.46 L293.74,198.62 L293.87,198.84 L294,199.35 L294.13,199.52 L294.26,199.07 L294.39,198.85 L294.52,199.02 L294.65,199.11 L294.78,199.09 L294.91,198.53 L295.04,198.82 L295.17,198.53 L295.3,198.56 L295.43,198.18 L295.56,198.57 L295.69,198.55 L295.82,198.16 L295.95,198.67 L296.08,198.42 L296.21,198.41 L296.34,198.74 L296.47,199.32 L296.6,198.59 L296.73,199.05 L296.86,199.41 L296.99,199.18 L297.12,199.49 L297.26,198.83 L297.39,199.22 L297.52,198.45 L297.65,199.12 L297.78,199.45 L297.91,199.36 L298.04,199.26 L298.17,199.46 L298.3,199.67 L298.43,199.34 L298.56,198.65 L298.69,198.69 L298.82,198.83 L298.95,198.04 L299.08,198.23 L299.21,198.44 L299.34,199.02 L299.47,198.32 L299.6,199.26 L299.73,198.71 L299.86,198.69 L299.99,198.72 L300.12,199.09 L300.25,199.13 L300.38,199.75 L300.51,199.24 L300.65,200.64 L300.78,200.58 L300.91,200.19 L301.04,200.39 L301.17,200.4 L301.3,200.12 L301.43,200.31 L301.56,200.48 L301.69,200.31 L301.82,200.28 L301.95,200.47 L302.08,199.94 L302.21,199.67 L302.34,199.75 L302.47,199.7 L302.6,199.61 L302.73,199.35 L302.86,198.68 L302.99,198.69 L303.12,198.98 L303.25,199.42 L303.38,199.68 L303.51,199.6 L303.64,199.25 L303.77,199.48 L303.9,199.53 L304.03,199.4 L304.17,198.81 L304.3,199.32 L304.43,199.15 L304.56,198.93 L304.69,198.7 L304.82,199.18 L304.95,198.72 L305.08,198.83 L305.21,199.36 L305.34,199.13 L305.47,199.69 L305.6,199.46 L305.73,199.86 L305.86,200.05 L305.99,200.43 L306.12,199.43 L306.25,199.74 L306.38,199.78 L306.51,198.91 L306.64,199.37 L306.77,198.71 L306.9,198.78 L307.03,198.07 L307.16,198.77 L307.29,198.59 L307.42,199.11 L307.56,198.71 L307.69,199.32 L307.82,198.9 L307.95,199.39 L308.08,199.28 L308.21,199.42 L308.34,199.14 L308.47,199.11 L308.6,199.26 L308.73,199.64 L308.86,199.51 L308.99,200.07 L309.12,199.92 L309.25,199.53 L309.38,199.17 L309.51,199.51 L309.64,199.67 L309.77,199.85 L309.9,199.4 L310.03,199.32 L310.16,199.8 L310.16,203.78 L310.29,203.41 L310.42,203.45 L310.55,204 L310.68,203.3 L310.81,203.58 L310.94,203.59 L311.08,202.8 L311.21,202.91 L311.34,203.2 L311.47,203.17 L311.6,203.49 L311.73,202.49 L311.86,202.9 L311.99,202.85 L312.12,202.05 L312.25,202.18 L312.38,202.06 L312.51,201.74 L312.64,202.03 L312.77,201.7 L312.9,202.12 L313.03,202.15 L313.16,201.64 L313.29,201.97 L313.42,202.06 L313.55,202.86 L313.68,202.66 L313.81,202.45 L313.94,202.56 L314.07,202.59 L314.2,203.17 L314.33,202.29 L314.46,202.77 L314.6,201.66 L314.73,201.78 L314.86,202.06 L314.99,201.77 L315.12,201.46 L315.25,201.69 L315.38,201.96 L315.51,202.45 L315.64,202.28 L315.77,202.16 L315.9,202.25 L316.03,202.46 L316.16,201.92 L316.29,201.7 L316.42,202.43 L316.55,202.66 L316.68,202.72 L316.81,201.82 L316.94,201.57 L317.07,201.34 L317.2,201.89 L317.33,201.94 L317.46,202.25 L317.59,202.51 L317.72,202.83 L317.85,202.89 L317.99,202.34 L318.12,202.19 L318.25,202.1 L318.38,201.12 L318.51,201.08 L318.64,201.13 L318.77,201.51 L318.9,201.6 L319.03,201.65 L319.16,201.3 L319.29,201.58 L319.42,201.38 L319.55,200.91 L319.68,200.79 L319.81,201.86 L319.94,202 L320.07,202.22 L320.2,201.9 L320.33,202.4 L320.46,201.98 L320.59,201.98 L320.72,201.79 L320.85,200.97 L320.98,201.18 L321.11,201.23 L321.24,201.58 L321.37,201.36 L321.51,201.22 L321.64,201.73 L321.77,202.47 L321.9,202.43 L322.03,202.04 L322.16,202.56 L322.29,201.96 L322.42,202.37 L322.55,201.31 L322.68,201.92 L322.81,201.9 L322.94,201.34 L323.07,201.51 L323.2,201.2" fill="none" stroke="#505050" stroke-width="1.45" stroke-linejoin="round" />
<path d="M62.45,141.35 L62.58,140.96 L62.71,140.62 L62.84,140.95 L62.97,140.16 L63.1,140.69 L63.23,140.34 L63.36,140.95 L63.49,140.81 L63.62,140.8 L63.75,140.71 L63.88,140.88 L64.01,140.36 L64.14,141 L64.28,141.14 L64.41,141.3 L64.54,141.19 L64.67,141.34 L64.8,141.66 L64.93,141.32 L65.06,140.4 L65.19,140.96 L65.32,141.15 L65.45,141.37 L65.58,140.87 L65.71,140.62 L65.84,140.29 L65.97,140.26 L66.1,139.46 L66.23,138.73 L66.36,138.54 L66.49,139.03 L66.62,138.78 L66.75,138.75 L66.88,138.75 L67.01,138.76 L67.14,139.05 L67.27,138.95 L67.4,139.39 L67.53,138.92 L67.67,139.43 L67.8,139.29 L67.93,139.31 L68.06,139.81 L68.19,139.74 L68.32,139.28 L68.45,139.92 L68.58,140.13 L68.71,139.96 L68.84,140.1 L68.97,140.16 L69.1,139.92 L69.23,139.25 L69.36,139.76 L69.49,138.75 L69.62,138.9 L69.75,139.19 L69.88,139.42 L70.01,138.89 L70.14,139.07 L70.27,138.82 L70.4,138.58 L70.53,139.07 L70.66,138.73 L70.79,138.94 L70.92,138.64 L71.05,138.34 L71.19,137.93 L71.32,138.17 L71.45,138.25 L71.58,138.06 L71.71,137.76 L71.84,138.49 L71.97,137.43 L72.1,137.8 L72.23,138.56 L72.36,138.45 L72.49,138.08 L72.62,138.13 L72.75,138.45 L72.88,137.99 L73.01,138.29 L73.14,138.45 L73.27,138.82 L73.4,138.71 L73.53,138.99 L73.66,138.18 L73.79,139.29 L73.92,139.04 L74.05,139.16 L74.18,138.63 L74.31,138.45 L74.44,138.03 L74.57,139.01 L74.71,138.72 L74.84,138.39 L74.97,138.62 L75.1,138.22 L75.23,138.91 L75.36,138.58 L75.49,139.46 L75.49,119.95 L75.62,123.11 L75.75,124.64 L75.88,126.48 L76.01,126.6 L76.14,127.24 L76.27,127.53 L76.4,128.12 L76.53,128.3 L76.66,127.89 L76.79,127.61 L76.92,128.04 L77.05,129.1 L77.18,129.54 L77.31,129.35 L77.44,129.97 L77.57,130.07 L77.7,129.79 L77.83,130.2 L77.96,129.94 L78.09,130.08 L78.23,130.61 L78.36,130.51 L78.49,130.85 L78.62,131.14 L78.75,131.32 L78.88,131.28 L79.01,131.07 L79.14,130.78 L79.27,130.95 L79.4,130.89 L79.53,131.03 L79.66,131.05 L79.79,131.22 L79.92,131.33 L80.05,131.5 L80.18,131.65 L80.31,131.71 L80.44,131.83 L80.57,131.83 L80.7,132.04 L80.83,132.46 L80.96,131.93 L81.09,131.94 L81.22,132.05 L81.35,132.55 L81.48,132.52 L81.62,132.41 L81.75,132.46 L81.88,132.64 L82.01,132.93 L82.14,132.79 L82.27,132.61 L82.4,131.89 L82.53,132.58 L82.66,132.91 L82.79,132.91 L82.92,132.97 L83.05,133.91 L83.18,132.77 L83.31,132.69 L83.44,132.19 L83.57,132.56 L83.7,132.53 L83.83,132.75 L83.96,132.7 L84.09,132.69 L84.22,132.16 L84.35,132.32 L84.48,132.04 L84.61,132.45 L84.74,132.43 L84.87,132.92 L85,133.48 L85.14,133.07 L85.27,133.4 L85.4,133.39 L85.53,133.38 L85.66,133.34 L85.79,133.15 L85.92,133.48 L86.05,133.24 L86.18,133.67 L86.31,133.79 L86.44,133.38 L86.57,133.34 L86.7,133.62 L86.83,133.2 L86.96,132.92 L87.09,132.74 L87.22,133.15 L87.35,133.39 L87.48,132.94 L87.61,132.46 L87.74,132.37 L87.87,132.82 L88,132.67 L88.13,132.8 L88.26,132.88 L88.39,132.43 L88.53,132.55 L88.66,132.61 L88.79,132.74 L88.92,132.69 L89.05,132.5 L89.18,132.83 L89.31,132.67 L89.44,132.67 L89.57,132.6 L89.7,132.62 L89.83,133.27 L89.96,133.33 L90.09,133.58 L90.22,133.62 L90.35,133.98 L90.48,133.88 L90.61,133.36 L90.74,133.52 L90.87,133.51 L91,133.55 L91.13,132.92 L91.26,133.06 L91.39,132.95 L91.52,132.97 L91.65,133.07 L91.78,133.16 L91.91,133.05 L92.05,133.22 L92.18,133.04 L92.31,132.92 L92.44,132.98 L92.57,133.32 L92.7,132.97 L92.83,133.11 L92.96,133.53 L93.09,133.25 L93.22,133.27 L93.35,133.38 L93.48,133.45 L93.61,133.39 L93.74,133.31 L93.87,133.43 L94,133.41 L94.13,133.49 L94.26,133.6 L94.39,133.11 L94.52,133.21 L94.65,133.53 L94.78,133.75 L94.91,133.85 L95.04,134.35 L95.17,133.74 L95.3,133.8 L95.43,133.95 L95.57,133.73 L95.7,133.93 L95.83,133.88 L95.96,134.4 L96.09,133.61 L96.22,133.8 L96.35,134.34 L96.48,133.86 L96.61,134.64 L96.74,134.57 L96.87,134.21 L97,133.81 L97.13,133.91 L97.26,133.66 L97.39,133.83 L97.52,134.74 L97.65,134.08 L97.78,134.29 L97.91,134.57 L98.04,133.97 L98.17,134.29 L98.3,134.27 L98.43,134.13 L98.56,133.93 L98.69,134.61 L98.82,134.1 L98.95,134.73 L99.09,135.09 L99.22,135.02 L99.35,135.09 L99.48,134.92 L99.61,134.82 L99.74,134.38 L99.87,134.92 L100,135.22 L100.13,135.36 L100.26,135.68 L100.39,135.42 L100.52,135.05 L100.65,134.5 L100.78,134.66 L100.91,134.74 L101.04,134.57 L101.17,134.9 L101.3,134.58 L101.43,134.09 L101.56,134.02 L101.56,150.98 L101.69,150.01 L101.82,149.01 L101.95,148.27 L102.08,147.14 L102.21,146.16 L102.34,145.95 L102.48,146.23 L102.61,145.54 L102.74,145.21 L102.87,144.43 L103,144.27 L103.13,144.51 L103.26,144.68 L103.39,143.93 L103.52,143.87 L103.65,143.78 L103.78,143.21 L103.91,144.33 L104.04,143.67 L104.17,143.75 L104.3,143.42 L104.43,144.07 L104.56,143.86 L104.69,143.27 L104.82,143.5 L104.95,143.36 L105.08,143.56 L105.21,142.89 L105.34,143.25 L105.47,143.78 L105.6,143.22 L105.73,143.74 L105.86,143.71 L106,143.73 L106.13,143.66 L106.26,143.39 L106.39,143.13 L106.52,143.89 L106.65,143.72 L106.78,143.91 L106.91,143.77 L107.04,144.36 L107.17,143.92 L107.3,143.15 L107.43,143.02 L107.56,143.08 L107.69,143.49 L107.82,142.96 L107.95,142.1 L108.08,142.3 L108.21,142.36 L108.34,142.62 L108.47,142.26 L108.6,142.51 L108.73,142.25 L108.86,142.13 L108.99,142.42 L109.12,142.37 L109.25,141.72 L109.39,142.43 L109.52,141.77 L109.65,141.62 L109.78,141.87 L109.91,141.4 L110.04,141.93 L110.17,141.96 L110.3,141.23 L110.43,141.69 L110.56,141.58 L110.69,141.7 L110.82,141.94 L110.95,141.58 L111.08,141.67 L111.21,141.49 L111.34,141.64 L111.47,141.92 L111.6,141.67 L111.73,141.72 L111.86,141.03 L111.99,141.12 L112.12,141.02 L112.25,141.14 L112.38,140.72 L112.51,140.84 L112.64,141.07 L112.77,141.87 L112.91,142.1 L113.04,142.35 L113.17,141.82 L113.3,141.33 L113.43,141.77 L113.56,141.42 L113.69,141.29 L113.82,141.21 L113.95,140.84 L114.08,141.12 L114.21,141.3 L114.34,141.23 L114.47,140.18 L114.6,140.91 L114.73,140.47 L114.86,140.6 L114.99,140.6 L115.12,140.56 L115.25,140.07 L115.38,139.65 L115.51,139.55 L115.64,139.28 L115.77,139.86 L115.9,139.79 L116.03,139.25 L116.16,139.93 L116.29,139.84 L116.43,139.62 L116.56,139.89 L116.69,140.38 L116.82,140.76 L116.95,140.79 L117.08,140.52 L117.21,139.71 L117.34,140.27 L117.47,140.21 L117.6,140.1 L117.73,139.88 L117.86,140.29 L117.99,140.95 L118.12,140.89 L118.25,140.1 L118.38,140.56 L118.51,141.08 L118.64,141.62 L118.77,140.82 L118.9,139.75 L119.03,140.21 L119.16,140.1 L119.29,140.26 L119.42,139.85 L119.55,140.42 L119.68,140.34 L119.81,139.97 L119.95,139.67 L120.08,139.27 L120.21,139.53 L120.34,139.12 L120.47,139 L120.6,138.89 L120.73,139.43 L120.86,139.22 L120.99,138.31 L121.12,138.59 L121.25,138.32 L121.38,139.01 L121.51,138.44 L121.64,138.77 L121.77,139.04 L121.9,139.57 L122.03,139.71 L122.16,138.77 L122.29,138.88 L122.42,139.05 L122.55,139.36 L122.68,139.64 L122.81,139.35 L122.94,138.88 L123.07,138.98 L123.2,139.15 L123.34,138.49 L123.47,138.34 L123.6,137.91 L123.73,137.65 L123.86,137.95 L123.99,138.06 L124.12,138.5 L124.25,138.03 L124.38,137.92 L124.51,138.27 L124.64,137.84 L124.77,138.19 L124.9,138.01 L125.03,137.77 L125.16,137.96 L125.29,137.96 L125.42,138.35 L125.55,138.03 L125.68,137.81 L125.81,138.15 L125.94,138.46 L126.07,138.66 L126.2,138.99 L126.33,138.94 L126.46,139.17 L126.59,138.86 L126.72,138.43 L126.86,138.56 L126.99,138.78 L127.12,139.37 L127.25,139.15 L127.38,138.8 L127.51,138.44 L127.64,138.89 L127.64,119.95 L127.77,123.3 L127.9,125.19 L128.03,126.88 L128.16,127.4 L128.29,127.75 L128.42,127.74 L128.55,127.87 L128.68,128.12 L128.81,128.38 L128.94,128.59 L129.07,128.59 L129.2,129.13 L129.33,129.08 L129.46,128.89 L129.59,129.19 L129.72,129.08 L129.85,129.62 L129.98,129.75 L130.11,130.53 L130.25,129.94 L130.38,130.17 L130.51,130.8 L130.64,131.11 L130.77,131.45 L130.9,131.18 L131.03,131.05 L131.16,131.29 L131.29,131.26 L131.42,131.01 L131.55,130.7 L131.68,130.23 L131.81,130.42 L131.94,130.04 L132.07,130.96 L132.2,130.82 L132.33,131.15 L132.46,131.19 L132.59,131.46 L132.72,131.59 L132.85,130.85 L132.98,131.35 L133.11,132.01 L133.24,131.77 L133.37,131.65 L133.5,131.89 L133.63,131.81 L133.77,131.97 L133.9,132.21 L134.03,132.27 L134.16,132.05 L134.29,132.14 L134.42,132.65 L134.55,132.31 L134.68,132.16 L134.81,131.9 L134.94,132.13 L135.07,131.79 L135.2,132.02 L135.33,132.15 L135.46,132.71 L135.59,132.46 L135.72,132.79 L135.85,132.42 L135.98,132.26 L136.11,132.17 L136.24,132.2 L136.37,132.16 L136.5,132.3 L136.63,132.12 L136.76,132.44 L136.89,132.83 L137.02,132.99 L137.15,132.36 L137.29,132.8 L137.42,132.11 L137.55,132.61 L137.68,132.89 L137.81,133.27 L137.94,133.41 L138.07,132.53 L138.2,132.7 L138.33,132.74 L138.46,132.82 L138.59,133.11 L138.72,133.25 L138.85,133.15 L138.98,132.63 L139.11,132.68 L139.24,132.2 L139.37,132.51 L139.5,132.35 L139.63,132.43 L139.76,132.38 L139.89,132.19 L140.02,132.79 L140.15,132.87 L140.28,133.37 L140.41,132.78 L140.54,132.89 L140.68,132.7 L140.81,132.64 L140.94,132.73 L141.07,133.22 L141.2,133.12 L141.33,132.86 L141.46,132.84 L141.59,132.65 L141.72,132.83 L141.85,133.6 L141.98,133.55 L142.11,133.58 L142.24,133.49 L142.37,133.35 L142.5,133.57 L142.63,133.32 L142.76,133.75 L142.89,133.37 L143.02,133.24 L143.15,132.95 L143.28,133.15 L143.41,132.8 L143.54,133.18 L143.67,133.52 L143.8,133.68 L143.93,133.97 L144.06,133.8 L144.2,133.61 L144.33,133.58 L144.46,133.85 L144.59,133.28 L144.72,133.19 L144.85,133.31 L144.98,133.19 L145.11,133.11 L145.24,133.12 L145.37,133.05 L145.5,133.2 L145.63,133.48 L145.76,133.64 L145.89,134.09 L146.02,134.29 L146.15,133.98 L146.28,133.52 L146.41,133.44 L146.54,133.08 L146.67,133.95 L146.8,133.45 L146.93,133.72 L147.06,133.78 L147.19,133.85 L147.32,133.54 L147.45,133.86 L147.58,133.67 L147.72,134.09 L147.85,134.59 L147.98,133.87 L148.11,133.57 L148.24,133.48 L148.37,133.5 L148.5,133.24 L148.63,132.82 L148.76,132.71 L148.89,132.53 L149.02,133.12 L149.15,132.91 L149.28,133.6 L149.41,133.88 L149.54,133.49 L149.67,134.06 L149.8,133.96 L149.93,133.78 L150.06,133.62 L150.19,133.71 L150.32,133.67 L150.45,133.53 L150.58,133.62 L150.71,133.23 L150.84,133.52 L150.97,133.04 L151.11,133.8 L151.24,133.78 L151.37,133.73 L151.5,133.92 L151.63,134.27 L151.76,133.84 L151.89,134.3 L152.02,133.9 L152.15,133.49 L152.28,134.21 L152.41,134.57 L152.54,134.59 L152.67,134.58 L152.8,134.23 L152.93,134.19 L153.06,135.01 L153.19,134.77 L153.32,135.16 L153.45,134.48 L153.58,134.78 L153.71,134.28 L153.71,150.98 L153.84,150.25 L153.97,149 L154.1,148.97 L154.23,148.22 L154.36,147.67 L154.49,146.85 L154.63,146.8 L154.76,146.3 L154.89,145.66 L155.02,145.57 L155.15,144.77 L155.28,144.69 L155.41,144.9 L155.54,144.75 L155.67,144.71 L155.8,145.08 L155.93,144.49 L156.06,144.61 L156.19,144.16 L156.32,144.35 L156.45,144.63 L156.58,144.49 L156.71,144.16 L156.84,144.1 L156.97,144.79 L157.1,144.24 L157.23,144.37 L157.36,144.19 L157.49,144.4 L157.62,143.72 L157.75,144.06 L157.88,143.13 L158.01,144.07 L158.15,143.38 L158.28,142.76 L158.41,143.2 L158.54,143.1 L158.67,143.42 L158.8,143.23 L158.93,143.41 L159.06,143.41 L159.19,143.8 L159.32,144.17 L159.45,143.33 L159.58,142.87 L159.71,142.89 L159.84,142.76 L159.97,142.56 L160.1,142.74 L160.23,142.75 L160.36,143.53 L160.49,143.23 L160.62,142.89 L160.75,142.59 L160.88,143.24 L161.01,143.17 L161.14,142.8 L161.27,143.05 L161.4,143.08 L161.53,142.28 L161.67,143.01 L161.8,143.1 L161.93,143.38 L162.06,142.04 L162.19,142.88 L162.32,142.21 L162.45,142.26 L162.58,142.24 L162.71,142.8 L162.84,141.96 L162.97,142.22 L163.1,141.94 L163.23,142.73 L163.36,142.02 L163.49,142.09 L163.62,142.05 L163.75,142.66 L163.88,142.68 L164.01,142.58 L164.14,142.7 L164.27,142.26 L164.4,142.4 L164.53,142.11 L164.66,141.94 L164.79,141.74 L164.92,141.39 L165.06,140.87 L165.19,140.95 L165.32,140.62 L165.45,140.12 L165.58,140.51 L165.71,140.66 L165.84,141.37 L165.97,141.28 L166.1,141.02 L166.23,140.99 L166.36,140.83 L166.49,141.25 L166.62,141.33 L166.75,141.58 L166.88,141.11 L167.01,140.34 L167.14,141.5 L167.27,141.1 L167.4,140.56 L167.53,140.63 L167.66,140.03 L167.79,140.53 L167.92,140.28 L168.05,140.77 L168.18,140.43 L168.31,140.56 L168.44,140.35 L168.58,140.1 L168.71,140.19 L168.84,140.25 L168.97,140.25 L169.1,140.42 L169.23,140.08 L169.36,140.09 L169.49,139.49 L169.62,139.05 L169.75,139.13 L169.88,139.41 L170.01,139.53 L170.14,139.83 L170.27,140.2 L170.4,140.18 L170.53,139.33 L170.66,139.83 L170.79,139.57 L170.92,139.07 L171.05,139.18 L171.18,138.73 L171.31,138.85 L171.44,139.06 L171.57,139.38 L171.7,138.94 L171.83,139.06 L171.97,138.24 L172.1,138.69 L172.23,138.71 L172.36,138.66 L172.49,138.96 L172.62,138.45 L172.75,138.94 L172.88,138.46 L173.01,138.92 L173.14,138.78 L173.27,138.61 L173.4,138.77 L173.53,138.26 L173.66,138.24 L173.79,138.52 L173.92,138.3 L174.05,138.75 L174.18,139.12 L174.31,138.88 L174.44,138.87 L174.57,138.87 L174.7,139.38 L174.83,139.29 L174.96,139.26 L175.09,139.67 L175.22,139.59 L175.35,138.83 L175.49,139.1 L175.62,139.47 L175.75,139.47 L175.88,138.61 L176.01,138.75 L176.14,138.7 L176.27,139.1 L176.4,139.1 L176.53,139.1 L176.66,138.78 L176.79,137.86 L176.92,138.24 L177.05,137.83 L177.18,138.32 L177.31,138.71 L177.44,138.15 L177.57,137.97 L177.7,137.8 L177.83,138.65 L177.96,138.5 L178.09,138.21 L178.22,137.52 L178.35,138.05 L178.48,138.03 L178.61,139.17 L178.74,138.68 L178.87,138.81 L179.01,138.11 L179.14,138.24 L179.27,138.01 L179.4,138.61 L179.53,138.25 L179.66,138.68 L179.79,139.01 L179.79,119.95 L179.92,123.97 L180.05,126.48 L180.18,126.81 L180.31,127.83 L180.44,127.89 L180.57,127.89 L180.7,128.08 L180.83,128.69 L180.96,129.06 L181.09,129.14 L181.22,129.63 L181.35,129.59 L181.48,129.55 L181.61,129.32 L181.74,129.26 L181.87,129.56 L182,129.81 L182.13,130.56 L182.26,130.05 L182.39,130.05 L182.53,130.14 L182.66,130.35 L182.79,130.76 L182.92,130.31 L183.05,130.31 L183.18,130.91 L183.31,131.6 L183.44,130.71 L183.57,130.81 L183.7,130.85 L183.83,130.93 L183.96,130.79 L184.09,130.29 L184.22,130.74 L184.35,130.63 L184.48,130.77 L184.61,130.76 L184.74,130.59 L184.87,131.07 L185,131.26 L185.13,131.43 L185.26,131.78 L185.39,132.51 L185.52,132.31 L185.65,132.7 L185.78,132.4 L185.92,132.03 L186.05,132.08 L186.18,132.04 L186.31,132.16 L186.44,132.44 L186.57,132.07 L186.7,133.23 L186.83,132.95 L186.96,132.53 L187.09,132.71 L187.22,133.01 L187.35,132.98 L187.48,132.62 L187.61,132.78 L187.74,132.66 L187.87,132.43 L188,132.4 L188.13,133 L188.26,132.93 L188.39,132.98 L188.52,133.11 L188.65,133.39 L188.78,133.19 L188.91,132.58 L189.04,132.98 L189.17,132.7 L189.3,132.49 L189.44,132.35 L189.57,132.74 L189.7,133.05 L189.83,132.88 L189.96,132.85 L190.09,132.13 L190.22,133.01 L190.35,132.66 L190.48,132.65 L190.61,132.93 L190.74,132.48 L190.87,132.03 L191,132.3 L191.13,133.05 L191.26,132.73 L191.39,132.84 L191.52,133.06 L191.65,132.56 L191.78,132.37 L191.91,132.84 L192.04,132.37 L192.17,132.39 L192.3,132.84 L192.43,132.65 L192.56,132.43 L192.69,132.59 L192.82,132.46 L192.96,132.55 L193.09,132.56 L193.22,133.06 L193.35,132.58 L193.48,132.81 L193.61,133.23 L193.74,133.22 L193.87,133.6 L194,133.32 L194.13,133.08 L194.26,133.67 L194.39,133.55 L194.52,133.53 L194.65,133.22 L194.78,133.1 L194.91,133.6 L195.04,133.48 L195.17,133.87 L195.3,133.27 L195.43,133.04 L195.56,133.46 L195.69,133.83 L195.82,133.15 L195.95,132.6 L196.08,132.84 L196.21,132.7 L196.35,132.81 L196.48,133.03 L196.61,132.78 L196.74,132.11 L196.87,132.31 L197,131.93 L197.13,132.03 L197.26,132.51 L197.39,132.38 L197.52,133.1 L197.65,133.43 L197.78,133.07 L197.91,133.87 L198.04,134 L198.17,133.75 L198.3,134.29 L198.43,134.63 L198.56,135.1 L198.69,135.47 L198.82,134.78 L198.95,134.72 L199.08,134.77 L199.21,135.24 L199.34,135.38 L199.47,134.93 L199.6,135.12 L199.73,135.09 L199.87,134.75 L200,134.45 L200.13,134.75 L200.26,134.13 L200.39,134.85 L200.52,134.65 L200.65,135.1 L200.78,135.16 L200.91,134.92 L201.04,134.72 L201.17,135.16 L201.3,134.59 L201.43,134.39 L201.56,134.64 L201.69,134.67 L201.82,134.91 L201.95,133.95 L202.08,133.76 L202.21,134.02 L202.34,133.92 L202.47,134.27 L202.6,133.88 L202.73,133.67 L202.86,133.42 L202.99,133.28 L203.12,134.04 L203.25,133.5 L203.39,134.28 L203.52,133.81 L203.65,133.82 L203.78,134.1 L203.91,133.67 L204.04,134.06 L204.17,133.55 L204.3,133.46 L204.43,133.62 L204.56,133.72 L204.69,134.17 L204.82,133.81 L204.95,133.48 L205.08,133.36 L205.21,133.35 L205.34,133.92 L205.47,133.15 L205.6,132.67 L205.73,132.29 L205.86,132.98 L205.86,150.98 L205.99,148.13 L206.12,147.74 L206.25,147.49 L206.38,147.13 L206.51,147.19 L206.64,146.71 L206.78,146.7 L206.91,145.84 L207.04,145.47 L207.17,145.1 L207.3,145.1 L207.43,145.02 L207.56,144.94 L207.69,145.51 L207.82,145.17 L207.95,145.4 L208.08,144.88 L208.21,144.75 L208.34,145.95 L208.47,145.32 L208.6,145.42 L208.73,145.19 L208.86,144.95 L208.99,144.9 L209.12,144.57 L209.25,144.09 L209.38,144.25 L209.51,143.64 L209.64,144.12 L209.77,143.67 L209.9,143.21 L210.03,143.88 L210.16,143.5 L210.3,143.75 L210.43,143.65 L210.56,143.8 L210.69,142.81 L210.82,143.3 L210.95,142.95 L211.08,143.43 L211.21,143.4 L211.34,143.17 L211.47,142.61 L211.6,142.65 L211.73,142.72 L211.86,142.45 L211.99,142.99 L212.12,142.94 L212.25,142.73 L212.38,142.94 L212.51,142.1 L212.64,142.03 L212.77,141.73 L212.9,142.22 L213.03,142.65 L213.16,142.96 L213.29,142.62 L213.42,142.27 L213.55,142.68 L213.69,142.03 L213.82,142.53 L213.95,141.69 L214.08,141.6 L214.21,140.86 L214.34,141.08 L214.47,141.66 L214.6,142.28 L214.73,141.74 L214.86,141.37 L214.99,142.42 L215.12,142.47 L215.25,142.69 L215.38,143.2 L215.51,143.17 L215.64,143.37 L215.77,143.13 L215.9,143.41 L216.03,142.58 L216.16,142.83 L216.29,142.6 L216.42,142.11 L216.55,142.34 L216.68,142.65 L216.81,142.91 L216.94,142.73 L217.07,142.41 L217.21,142.1 L217.34,141.4 L217.47,141.08 L217.6,140.69 L217.73,141.24 L217.86,141.57 L217.99,141.63 L218.12,140.67 L218.25,140.02 L218.38,139.82 L218.51,140.27 L218.64,140.77 L218.77,140.51 L218.9,140.08 L219.03,140.35 L219.16,139.63 L219.29,140.05 L219.42,140.64 L219.55,140.34 L219.68,140.32 L219.81,139.92 L219.94,139.47 L220.07,139.09 L220.2,139.24 L220.33,139.24 L220.46,139.01 L220.59,139.93 L220.73,140.05 L220.86,139.74 L220.99,139.85 L221.12,139.81 L221.25,139.55 L221.38,139.42 L221.51,139.63 L221.64,139.32 L221.77,139.91 L221.9,139.87 L222.03,139.8 L222.16,139 L222.29,138.87 L222.42,139.55 L222.55,138.87 L222.68,138.96 L222.81,138.98 L222.94,139.73 L223.07,139.84 L223.2,140.16 L223.33,140.11 L223.46,139.96 L223.59,140.63 L223.72,140.62 L223.85,139.51 L223.98,139.58 L224.12,139.35 L224.25,139.7 L224.38,139.92 L224.51,139.53 L224.64,139.84 L224.77,139.6 L224.9,139.38 L225.03,139.74 L225.16,139.18 L225.29,138.73 L225.42,138.67 L225.55,139.48 L225.68,139.6 L225.81,139.97 L225.94,139.44 L226.07,138.65 L226.2,137.7 L226.33,137.89 L226.46,137.85 L226.59,137.89 L226.72,138.56 L226.85,138.46 L226.98,138.66 L227.11,138.28 L227.24,138.79 L227.37,138.79 L227.5,138.72 L227.64,139.3 L227.77,138.97 L227.9,138.82 L228.03,139.18 L228.16,139.69 L228.29,140 L228.42,139.37 L228.55,139.99 L228.68,139.62 L228.81,139.47 L228.94,139.8 L229.07,139.78 L229.2,139.44 L229.33,138.77 L229.46,138.06 L229.59,137.7 L229.72,138.65 L229.85,138.28 L229.98,138.84 L230.11,138.33 L230.24,138.76 L230.37,139.3 L230.5,138.82 L230.63,138.9 L230.76,138.7 L230.89,138.93 L231.02,138.76 L231.16,138.81 L231.29,139.65 L231.42,139.36 L231.55,139.76 L231.68,139.43 L231.81,139.57 L231.94,139.47 L231.94,119.95 L232.07,122.69 L232.2,124.9 L232.33,125.72 L232.46,126.62 L232.59,127.41 L232.72,127.34 L232.85,127.99 L232.98,128.68 L233.11,128.59 L233.24,128.54 L233.37,128.73 L233.5,129.5 L233.63,129.96 L233.76,129.6 L233.89,129.49 L234.02,129.05 L234.15,129.57 L234.28,129.96 L234.41,130.29 L234.55,130.54 L234.68,130.79 L234.81,130.98 L234.94,131.15 L235.07,130.88 L235.2,130.32 L235.33,130.69 L235.46,130.15 L235.59,129.49 L235.72,130.09 L235.85,129.85 L235.98,130.12 L236.11,130.5 L236.24,130.87 L236.37,131.13 L236.5,131.44 L236.63,131.62 L236.76,130.98 L236.89,131.32 L237.02,131.5 L237.15,131.76 L237.28,131.93 L237.41,132.12 L237.54,132.25 L237.67,132.29 L237.8,132.86 L237.93,132.84 L238.07,132.51 L238.2,132.26 L238.33,132.18 L238.46,132.21 L238.59,132.36 L238.72,131.84 L238.85,132.76 L238.98,132.61 L239.11,132.32 L239.24,132.65 L239.37,133.38 L239.5,132.96 L239.63,132.9 L239.76,132.57 L239.89,132.86 L240.02,132.53 L240.15,132.09 L240.28,131.99 L240.41,131.72 L240.54,132.01 L240.67,131.68 L240.8,131.89 L240.93,131.97 L241.06,131.91 L241.19,132.18 L241.32,132.55 L241.45,132.24 L241.59,132.85 L241.72,132.88 L241.85,133.04 L241.98,133.44 L242.11,132.43 L242.24,132.46 L242.37,132.91 L242.5,132.52 L242.63,132.97 L242.76,132.53 L242.89,132.86 L243.02,132.72 L243.15,132.57 L243.28,132.35 L243.41,132.59 L243.54,132.86 L243.67,133.28 L243.8,133.56 L243.93,133.6 L244.06,133.07 L244.19,133.19 L244.32,133.1 L244.45,133.25 L244.58,133.07 L244.71,133 L244.84,132.37 L244.98,132.85 L245.11,133.29 L245.24,132.79 L245.37,132.69 L245.5,133.03 L245.63,132.94 L245.76,132.76 L245.89,132.85 L246.02,132.09 L246.15,132.61 L246.28,132.29 L246.41,132.85 L246.54,132.38 L246.67,132.54 L246.8,132.38 L246.93,132.62 L247.06,132.44 L247.19,133.13 L247.32,132.61 L247.45,132.58 L247.58,132.68 L247.71,133.38 L247.84,133.41 L247.97,132.83 L248.1,132.78 L248.23,132.89 L248.36,133.63 L248.5,133.93 L248.63,134.42 L248.76,134.64 L248.89,134.27 L249.02,134.37 L249.15,133.94 L249.28,133.34 L249.41,133.7 L249.54,133.83 L249.67,133.98 L249.8,133.39 L249.93,134.07 L250.06,134.24 L250.19,133.77 L250.32,133.91 L250.45,133.52 L250.58,133.76 L250.71,133.63 L250.84,133.77 L250.97,133.41 L251.1,133.21 L251.23,133.43 L251.36,133.29 L251.49,133.25 L251.62,132.89 L251.75,132.74 L251.88,133.14 L252.02,133.24 L252.15,133.62 L252.28,133.38 L252.41,134.02 L252.54,133.79 L252.67,133.71 L252.8,133.69 L252.93,133.73 L253.06,133.81 L253.19,133.97 L253.32,134.09 L253.45,134.27 L253.58,133.98 L253.71,134.61 L253.84,134.5 L253.97,134.66 L254.1,134.65 L254.23,135.18 L254.36,134.86 L254.49,135.04 L254.62,134.75 L254.75,134.08 L254.88,134.4 L255.01,133.79 L255.14,133.72 L255.27,133.6 L255.4,133.83 L255.54,133.79 L255.67,133.25 L255.8,133.62 L255.93,133.32 L256.06,133.34 L256.19,133.69 L256.32,133.58 L256.45,133.38 L256.58,133.46 L256.71,133.75 L256.84,134.05 L256.97,133.58 L257.1,133.87 L257.23,133.72 L257.36,133.62 L257.49,133.89 L257.62,134.13 L257.75,134.57 L257.88,134.89 L258.01,134.82 L258.01,150.98 L258.14,150.06 L258.27,148.79 L258.4,147.81 L258.53,147.75 L258.66,147.62 L258.79,147.15 L258.93,146.23 L259.06,146.16 L259.19,145.17 L259.32,145.85 L259.45,144.96 L259.58,144.57 L259.71,144.54 L259.84,144.85 L259.97,144.79 L260.1,144.25 L260.23,144.5 L260.36,143.75 L260.49,143.82 L260.62,144.22 L260.75,143.86 L260.88,144.09 L261.01,143.89 L261.14,144.15 L261.27,143.94 L261.4,143.45 L261.53,143.82 L261.66,143.5 L261.79,143.38 L261.92,143.31 L262.05,143.06 L262.18,143.07 L262.31,143.27 L262.45,142.76 L262.58,143.15 L262.71,144.09 L262.84,143.87 L262.97,143.4 L263.1,143.03 L263.23,143.61 L263.36,143.57 L263.49,143.87 L263.62,143.65 L263.75,143.91 L263.88,143.37 L264.01,143.81 L264.14,143.27 L264.27,144.24 L264.4,143.24 L264.53,143.34 L264.66,142.43 L264.79,142.55 L264.92,142.83 L265.05,142.8 L265.18,142.91 L265.31,142.91 L265.44,142.6 L265.57,142.31 L265.7,142.53 L265.83,142.62 L265.97,142.24 L266.1,142.41 L266.23,142.77 L266.36,142.53 L266.49,141.95 L266.62,142.12 L266.75,141.16 L266.88,141.95 L267.01,141.48 L267.14,141.39 L267.27,141.39 L267.4,141.67 L267.53,141.59 L267.66,141.22 L267.79,141.17 L267.92,141.57 L268.05,141.25 L268.18,141.94 L268.31,141.67 L268.44,141.33 L268.57,142.05 L268.7,141.45 L268.83,141.93 L268.96,141.67 L269.09,142.11 L269.22,141.31 L269.36,140.96 L269.49,141.33 L269.62,140.88 L269.75,141.7 L269.88,141.41 L270.01,141.43 L270.14,141.58 L270.27,141.59 L270.4,142.34 L270.53,141.8 L270.66,141.75 L270.79,141.07 L270.92,140.76 L271.05,141.4 L271.18,141.58 L271.31,140.35 L271.44,140.54 L271.57,141.13 L271.7,140.54 L271.83,139.88 L271.96,140.44 L272.09,140.95 L272.22,140.67 L272.35,140.92 L272.48,140.47 L272.61,140.13 L272.74,140.19 L272.88,140.7 L273.01,141.24 L273.14,141.39 L273.27,140.99 L273.4,140.52 L273.53,139.8 L273.66,139.93 L273.79,140.11 L273.92,139.89 L274.05,139.79 L274.18,140.13 L274.31,139.59 L274.44,140.45 L274.57,140.37 L274.7,139.92 L274.83,139.86 L274.96,139.37 L275.09,139.18 L275.22,139.72 L275.35,139.07 L275.48,139.78 L275.61,139.46 L275.74,139.1 L275.87,138.93 L276,139.22 L276.13,139.45 L276.26,138.89 L276.4,139.42 L276.53,139.15 L276.66,139.08 L276.79,139.3 L276.92,138.65 L277.05,138.73 L277.18,138.74 L277.31,139.16 L277.44,138.58 L277.57,139.08 L277.7,138.76 L277.83,138.96 L277.96,138.07 L278.09,138.52 L278.22,138.08 L278.35,138.13 L278.48,138.9 L278.61,138.87 L278.74,138.2 L278.87,137.99 L279,137.27 L279.13,137.43 L279.26,138.6 L279.39,137.6 L279.52,137.24 L279.65,137.68 L279.79,137.86 L279.92,138.76 L280.05,138.72 L280.18,138.89 L280.31,138.83 L280.44,138.49 L280.57,138.5 L280.7,138.54 L280.83,138.3 L280.96,138.71 L281.09,138.21 L281.22,139.2 L281.35,139.49 L281.48,139.45 L281.61,139.4 L281.74,139.36 L281.87,139.35 L282,138.58 L282.13,138.13 L282.26,138.48 L282.39,138.18 L282.52,138.32 L282.65,138.75 L282.78,138.92 L282.91,138.71 L283.04,138.22 L283.17,138.68 L283.31,138.34 L283.44,138.81 L283.57,139.39 L283.7,138.97 L283.83,138.61 L283.96,137.89 L284.09,137.81 L284.09,119.95 L284.22,121.94 L284.35,123.84 L284.48,125.27 L284.61,125.58 L284.74,126.31 L284.87,126.66 L285,126.68 L285.13,127.25 L285.26,127.45 L285.39,128.07 L285.52,128.57 L285.65,128.97 L285.78,128.57 L285.91,128.89 L286.04,129.93 L286.17,129.39 L286.3,129.56 L286.43,129.86 L286.56,130.46 L286.69,130.04 L286.83,130.07 L286.96,130.51 L287.09,130.59 L287.22,130.49 L287.35,130.82 L287.48,130.93 L287.61,130.39 L287.74,130.23 L287.87,130.35 L288,130.24 L288.13,130.92 L288.26,130.61 L288.39,130.6 L288.52,130.94 L288.65,131.25 L288.78,131.21 L288.91,131.92 L289.04,131.6 L289.17,131.24 L289.3,131.42 L289.43,130.5 L289.56,131.12 L289.69,131.25 L289.82,131.78 L289.95,131.38 L290.08,131.37 L290.22,131.9 L290.35,131.69 L290.48,131.32 L290.61,130.97 L290.74,131.47 L290.87,131.36 L291,131.37 L291.13,131.25 L291.26,132.17 L291.39,131.85 L291.52,131.97 L291.65,132.24 L291.78,131.74 L291.91,132.5 L292.04,131.9 L292.17,131.94 L292.3,132.39 L292.43,132.65 L292.56,133.08 L292.69,132.6 L292.82,132.86 L292.95,132.57 L293.08,133.1 L293.21,132.84 L293.34,132.25 L293.47,132.51 L293.6,132.24 L293.74,132.57 L293.87,132.26 L294,132.61 L294.13,132.59 L294.26,132.78 L294.39,132.62 L294.52,133.07 L294.65,132.88 L294.78,132.68 L294.91,132.41 L295.04,132.84 L295.17,132.47 L295.3,132.5 L295.43,132.75 L295.56,132.96 L295.69,133.41 L295.82,133.14 L295.95,132.38 L296.08,132.36 L296.21,132.92 L296.34,132.77 L296.47,132.47 L296.6,133.22 L296.73,132.96 L296.86,133.04 L296.99,132.92 L297.12,133.1 L297.26,132.99 L297.39,133.21 L297.52,133.27 L297.65,133.45 L297.78,133.08 L297.91,133.16 L298.04,133.56 L298.17,133.54 L298.3,133.35 L298.43,133.27 L298.56,134.04 L298.69,133.34 L298.82,133.19 L298.95,132.93 L299.08,132.43 L299.21,132.95 L299.34,133.09 L299.47,133.46 L299.6,133.24 L299.73,132.88 L299.86,132.91 L299.99,132.57 L300.12,133.22 L300.25,133.04 L300.38,132.97 L300.51,133.05 L300.65,133.02 L300.78,133.29 L300.91,133.35 L301.04,133.19 L301.17,133.34 L301.3,133.23 L301.43,133.73 L301.56,133.49 L301.69,132.91 L301.82,133.15 L301.95,133.64 L302.08,133.79 L302.21,134.06 L302.34,134.71 L302.47,134.15 L302.6,133.76 L302.73,133.69 L302.86,133.33 L302.99,133.8 L303.12,133.11 L303.25,133.38 L303.38,133.41 L303.51,133.74 L303.64,134.28 L303.77,133.74 L303.9,134.68 L304.03,134.13 L304.17,134.28 L304.3,134.46 L304.43,133.95 L304.56,134.09 L304.69,134.16 L304.82,134.7 L304.95,134.64 L305.08,134.65 L305.21,134.76 L305.34,134.84 L305.47,135.13 L305.6,134.6 L305.73,134.47 L305.86,134.04 L305.99,133.53 L306.12,133.75 L306.25,133.78 L306.38,133.77 L306.51,134.25 L306.64,134.35 L306.77,133.88 L306.9,133.84 L307.03,133.73 L307.16,133.86 L307.29,134.09 L307.42,133.51 L307.56,133.87 L307.69,133.06 L307.82,132.71 L307.95,132.99 L308.08,133.83 L308.21,133.81 L308.34,133.63 L308.47,133.99 L308.6,133.42 L308.73,133.6 L308.86,133.49 L308.99,133.8 L309.12,133.69 L309.25,134.23 L309.38,134.5 L309.51,134.62 L309.64,134.85 L309.77,134.88 L309.9,134.22 L310.03,134.62 L310.16,134.12 L310.16,150.98 L310.29,149.23 L310.42,148.12 L310.55,147.68 L310.68,147.83 L310.81,146.43 L310.94,145.69 L311.08,145.92 L311.21,145.2 L311.34,145.28 L311.47,145.56 L311.6,145.08 L311.73,145.18 L311.86,145.48 L311.99,145.27 L312.12,145.44 L312.25,145.24 L312.38,145.7 L312.51,145.71 L312.64,145.6 L312.77,145.16 L312.9,145.49 L313.03,145.59 L313.16,145.56 L313.29,144.28 L313.42,144.47 L313.55,145.07 L313.68,144.77 L313.81,144.33 L313.94,144.38 L314.07,144.48 L314.2,144.35 L314.33,143.54 L314.46,143.39 L314.6,143.01 L314.73,143.11 L314.86,142.8 L314.99,142.89 L315.12,143.02 L315.25,142.6 L315.38,142.92 L315.51,143.55 L315.64,143.24 L315.77,143.02 L315.9,142.81 L316.03,143.5 L316.16,143.11 L316.29,142.82 L316.42,142.62 L316.55,142.5 L316.68,143.01 L316.81,143.01 L316.94,142.7 L317.07,142.44 L317.2,142.37 L317.33,142.09 L317.46,142.76 L317.59,141.92 L317.72,142.54 L317.85,142.87 L317.99,142.54 L318.12,142.82 L318.25,142.48 L318.38,142.49 L318.51,142.17 L318.64,142.28 L318.77,142.66 L318.9,142.88 L319.03,142.25 L319.16,142.09 L319.29,142.05 L319.42,141.58 L319.55,141.48 L319.68,141.56 L319.81,141.64 L319.94,141.75 L320.07,141.8 L320.2,141.72 L320.33,141.68 L320.46,142.07 L320.59,141.8 L320.72,141.36 L320.85,141.26 L320.98,141.3 L321.11,140.89 L321.24,141.23 L321.37,140.62 L321.51,141.59 L321.64,141.34 L321.77,141.02 L321.9,140.68 L322.03,140.7 L322.16,141.01 L322.29,141.27 L322.42,140.99 L322.55,141.45 L322.68,140.96 L322.81,140.98 L322.94,140.49 L323.07,140.34 L323.2,140.42" fill="none" stroke="#e43741" stroke-width="1.3" stroke-linejoin="round" />
<path d="M62.45,69.35 L62.58,68.02 L62.71,67.95 L62.84,68.93 L62.97,67.52 L63.1,68.58 L63.23,68.49 L63.36,68.6 L63.49,67.82 L63.62,66.69 L63.75,65.38 L63.88,66.17 L64.01,65.69 L64.14,64.61 L64.28,64.28 L64.41,66.12 L64.54,64.86 L64.67,64.9 L64.8,67.28 L64.93,69.65 L65.06,67.53 L65.19,68.85 L65.32,67.9 L65.45,65.94 L65.58,65.53 L65.71,67.07 L65.84,65.57 L65.97,66.72 L66.1,67.68 L66.23,65.18 L66.36,67.02 L66.49,67.3 L66.62,69.95 L66.75,67.54 L66.88,70.21 L67.01,69.48 L67.14,68.09 L67.27,67.55 L67.4,65.59 L67.53,67.15 L67.67,64.13 L67.8,63.48 L67.93,64.67 L68.06,65.78 L68.19,65.19 L68.32,65.27 L68.45,64.67 L68.58,67.45 L68.71,65.51 L68.84,65.5 L68.97,65.81 L69.1,65.7 L69.23,66.83 L69.36,66.54 L69.49,64.91 L69.62,64.23 L69.75,67.34 L69.88,67.13 L70.01,68.47 L70.14,68.69 L70.27,68.94 L70.4,67.59 L70.53,66.06 L70.66,65.17 L70.79,63.36 L70.92,63.68 L71.05,64.11 L71.19,62.19 L71.32,63.67 L71.45,63.79 L71.58,64.2 L71.71,62.74 L71.84,64.32 L71.97,64.7 L72.1,64.42 L72.23,64.26 L72.36,65.44 L72.49,64.97 L72.62,66.14 L72.75,66.75 L72.88,65.95 L73.01,65.3 L73.14,64.15 L73.27,66.59 L73.4,67.28 L73.53,65.73 L73.66,65.42 L73.79,64.48 L73.92,64.3 L74.05,64.26 L74.18,63.68 L74.31,65.84 L74.44,65.41 L74.57,66.61 L74.71,66.18 L74.84,67.75 L74.97,70.36 L75.1,71.49 L75.23,69.73 L75.36,69.71 L75.49,68.43 L75.49,32.36 L75.62,37.21 L75.75,41.91 L75.88,44.52 L76.01,47.39 L76.14,49.29 L76.27,50.89 L76.4,52.35 L76.53,53.75 L76.66,55.09 L76.79,55.35 L76.92,55.84 L77.05,55.41 L77.18,55.77 L77.31,56.69 L77.44,56.36 L77.57,56.65 L77.7,55.87 L77.83,56.78 L77.96,56.78 L78.09,55.87 L78.23,56.66 L78.36,55.82 L78.49,56.57 L78.62,56.45 L78.75,55.79 L78.88,55.49 L79.01,55.86 L79.14,55.1 L79.27,55.63 L79.4,55.74 L79.53,55.5 L79.66,55.27 L79.79,55.49 L79.92,55.77 L80.05,55.32 L80.18,55.96 L80.31,55.26 L80.44,56.17 L80.57,56.04 L80.7,57.16 L80.83,57.09 L80.96,56.24 L81.09,56.73 L81.22,57.68 L81.35,57.1 L81.48,56.29 L81.62,56.1 L81.75,57.4 L81.88,57.59 L82.01,57.76 L82.14,58.63 L82.27,58.12 L82.4,58.23 L82.53,57.84 L82.66,58.7 L82.79,58.04 L82.92,58.02 L83.05,58.26 L83.18,58.61 L83.31,59.43 L83.44,59.38 L83.57,59.12 L83.7,58.36 L83.83,58.91 L83.96,58.28 L84.09,58.33 L84.22,59.82 L84.35,58.73 L84.48,58.17 L84.61,58.07 L84.74,58.88 L84.87,58.3 L85,58.38 L85.14,58.35 L85.27,57.8 L85.4,57.28 L85.53,57.55 L85.66,57.97 L85.79,57.77 L85.92,58.49 L86.05,59.76 L86.18,59 L86.31,59.43 L86.44,58.77 L86.57,59.09 L86.7,58.91 L86.83,58.84 L86.96,59.16 L87.09,59.37 L87.22,59 L87.35,58.35 L87.48,57.84 L87.61,58.81 L87.74,58.03 L87.87,58.16 L88,58.73 L88.13,58.66 L88.26,59.16 L88.39,59.6 L88.53,58.81 L88.66,58.85 L88.79,58.43 L88.92,58.15 L89.05,58.18 L89.18,58.4 L89.31,58.23 L89.44,59.48 L89.57,59.36 L89.7,58.89 L89.83,59.09 L89.96,58.76 L90.09,58.6 L90.22,58.67 L90.35,58.75 L90.48,59.08 L90.61,59.77 L90.74,59.42 L90.87,59.74 L91,60.44 L91.13,61.43 L91.26,60.72 L91.39,60.89 L91.52,60.43 L91.65,60.01 L91.78,60.64 L91.91,60.24 L92.05,59.7 L92.18,60.09 L92.31,59.79 L92.44,59.16 L92.57,59.73 L92.7,59.26 L92.83,58.82 L92.96,59.61 L93.09,59 L93.22,59.32 L93.35,60.27 L93.48,60.47 L93.61,59.45 L93.74,60.73 L93.87,60.04 L94,60.58 L94.13,60.5 L94.26,59.96 L94.39,58.99 L94.52,58.91 L94.65,58.63 L94.78,59.25 L94.91,59.08 L95.04,59.45 L95.17,59.06 L95.3,59.65 L95.43,59.66 L95.57,59.57 L95.7,58.99 L95.83,59.79 L95.96,59.74 L96.09,60.63 L96.22,60.25 L96.35,60.54 L96.48,60.55 L96.61,59.98 L96.74,59.9 L96.87,60.51 L97,60.42 L97.13,60.83 L97.26,59.52 L97.39,60.04 L97.52,59.84 L97.65,60.2 L97.78,60.43 L97.91,60.81 L98.04,60.43 L98.17,61.07 L98.3,61.55 L98.43,60.28 L98.56,60.1 L98.69,60.81 L98.82,59.77 L98.95,61.93 L99.09,60.95 L99.22,61.37 L99.35,61.19 L99.48,60.53 L99.61,60.4 L99.74,60.57 L99.87,60.45 L100,59.99 L100.13,60.82 L100.26,60.19 L100.39,60.29 L100.52,60.03 L100.65,60.5 L100.78,60.61 L100.91,60.26 L101.04,60.44 L101.17,60.06 L101.3,59.63 L101.43,60.35 L101.56,60.54 L101.56,105.35 L101.69,102.69 L101.82,101.5 L101.95,99.49 L102.08,99.27 L102.21,98.14 L102.34,96.77 L102.48,96.79 L102.61,96.22 L102.74,96.6 L102.87,95.5 L103,95.05 L103.13,94.53 L103.26,94.42 L103.39,93.9 L103.52,93.03 L103.65,92.77 L103.78,93.08 L103.91,93.23 L104.04,93.84 L104.17,92.82 L104.3,92.76 L104.43,92.65 L104.56,92.53 L104.69,92.75 L104.82,92.32 L104.95,91.6 L105.08,91.06 L105.21,91.38 L105.34,91.69 L105.47,92.28 L105.6,90.96 L105.73,91.01 L105.86,90.57 L106,89.86 L106.13,88.61 L106.26,88.22 L106.39,88.88 L106.52,87.7 L106.65,88.39 L106.78,88.96 L106.91,88.42 L107.04,88.91 L107.17,87.96 L107.3,87.74 L107.43,87.66 L107.56,88.03 L107.69,88.12 L107.82,87.37 L107.95,86.6 L108.08,87.17 L108.21,86.54 L108.34,86.72 L108.47,86.62 L108.6,86.33 L108.73,86.18 L108.86,87.52 L108.99,86.11 L109.12,85.93 L109.25,85.07 L109.39,84.27 L109.52,84.18 L109.65,84.85 L109.78,84.36 L109.91,83.39 L110.04,83.57 L110.17,83.34 L110.3,82.6 L110.43,82.07 L110.56,81.81 L110.69,82.12 L110.82,81.46 L110.95,81.33 L111.08,81.21 L111.21,80.75 L111.34,79.49 L111.47,79.43 L111.6,79.58 L111.73,80.48 L111.86,78.6 L111.99,78.97 L112.12,77.72 L112.25,78.33 L112.38,78.3 L112.51,76.89 L112.64,77.59 L112.77,78.04 L112.91,76.72 L113.04,76.4 L113.17,78.01 L113.3,75.77 L113.43,76.91 L113.56,76.46 L113.69,76.52 L113.82,75.87 L113.95,76.55 L114.08,77.58 L114.21,77.57 L114.34,76.55 L114.47,76.35 L114.6,75.53 L114.73,74 L114.86,73.24 L114.99,73.59 L115.12,74.5 L115.25,74.1 L115.38,74.24 L115.51,73.81 L115.64,72.4 L115.77,70.79 L115.9,69.37 L116.03,69.49 L116.16,70.33 L116.29,70.62 L116.43,70.08 L116.56,68.08 L116.69,69.77 L116.82,69.93 L116.95,68.82 L117.08,69.15 L117.21,67.6 L117.34,67.01 L117.47,66.68 L117.6,66.44 L117.73,66.15 L117.86,66.23 L117.99,66.63 L118.12,66.12 L118.25,66.58 L118.38,66.18 L118.51,64.49 L118.64,67.68 L118.77,65.4 L118.9,65.48 L119.03,67.43 L119.16,65.81 L119.29,66.27 L119.42,65.78 L119.55,65.21 L119.68,65.97 L119.81,64.6 L119.95,66.22 L120.08,65.62 L120.21,68.69 L120.34,66.55 L120.47,66.8 L120.6,65.88 L120.73,65.38 L120.86,65.25 L120.99,66.59 L121.12,69.13 L121.25,67.96 L121.38,67.54 L121.51,65.32 L121.64,66.3 L121.77,66.09 L121.9,63.84 L122.03,64.54 L122.16,64.85 L122.29,68.62 L122.42,67.78 L122.55,65.27 L122.68,67.03 L122.81,66.29 L122.94,66.29 L123.07,65.99 L123.2,65.02 L123.34,65.43 L123.47,62.2 L123.6,62.16 L123.73,61.81 L123.86,61.81 L123.99,62.93 L124.12,62.36 L124.25,62.84 L124.38,63.36 L124.51,65.37 L124.64,63.54 L124.77,63.99 L124.9,61.5 L125.03,62.9 L125.16,63.04 L125.29,64.11 L125.42,62.51 L125.55,62.54 L125.68,64.11 L125.81,63.56 L125.94,63.41 L126.07,65.57 L126.2,65.61 L126.33,65.25 L126.46,65.99 L126.59,66.1 L126.72,65.87 L126.86,66.31 L126.99,69.28 L127.12,68.75 L127.25,71.38 L127.38,69.87 L127.51,71.67 L127.64,71.94 L127.64,31.87 L127.77,39.43 L127.9,43.66 L128.03,45.87 L128.16,47.64 L128.29,49.76 L128.42,52.09 L128.55,52.61 L128.68,53.3 L128.81,54.28 L128.94,54.57 L129.07,54.86 L129.2,55.82 L129.33,55.92 L129.46,56.25 L129.59,55.72 L129.72,55.62 L129.85,55.75 L129.98,55.66 L130.11,55.89 L130.25,56.98 L130.38,57.29 L130.51,56.23 L130.64,57.44 L130.77,56.51 L130.9,56.89 L131.03,56.7 L131.16,56.68 L131.29,57.1 L131.42,57.14 L131.55,56.94 L131.68,57.11 L131.81,56.43 L131.94,56.93 L132.07,57.03 L132.2,57.57 L132.33,56.92 L132.46,57.39 L132.59,56.95 L132.72,56.34 L132.85,56.49 L132.98,56.52 L133.11,57.37 L133.24,57.17 L133.37,56.59 L133.5,56.95 L133.63,56.52 L133.77,57.87 L133.9,56.9 L134.03,58.33 L134.16,58.21 L134.29,57.71 L134.42,57.92 L134.55,56.82 L134.68,57.41 L134.81,57.26 L134.94,57.91 L135.07,57.76 L135.2,57.27 L135.33,57.08 L135.46,57.99 L135.59,57.5 L135.72,58.15 L135.85,58.42 L135.98,58.29 L136.11,58 L136.24,57.69 L136.37,59.19 L136.5,57.76 L136.63,57.58 L136.76,57.54 L136.89,58.38 L137.02,58.23 L137.15,57.85 L137.29,57.42 L137.42,58.43 L137.55,58.91 L137.68,57.99 L137.81,58.14 L137.94,57.74 L138.07,58.39 L138.2,57.91 L138.33,58.19 L138.46,57.86 L138.59,57.98 L138.72,58.21 L138.85,58.27 L138.98,58.17 L139.11,58.22 L139.24,58.31 L139.37,58.4 L139.5,58.82 L139.63,58.78 L139.76,59.6 L139.89,59.67 L140.02,59.15 L140.15,58.62 L140.28,58.68 L140.41,57.71 L140.54,58.29 L140.68,57.99 L140.81,57.71 L140.94,57.84 L141.07,57.92 L141.2,58.25 L141.33,57.47 L141.46,57.82 L141.59,58.07 L141.72,58.46 L141.85,58.26 L141.98,58.71 L142.11,59.88 L142.24,59.27 L142.37,60.43 L142.5,59.59 L142.63,60.27 L142.76,60.12 L142.89,60.22 L143.02,58.86 L143.15,58.89 L143.28,58.42 L143.41,58.85 L143.54,59.15 L143.67,59.02 L143.8,59.05 L143.93,59.6 L144.06,59.78 L144.2,59.45 L144.33,59.62 L144.46,59.65 L144.59,59.97 L144.72,59.94 L144.85,60.79 L144.98,59.6 L145.11,60.24 L145.24,60.35 L145.37,59.78 L145.5,59.54 L145.63,58.96 L145.76,59.46 L145.89,59.08 L146.02,59.26 L146.15,59.89 L146.28,59.59 L146.41,59.72 L146.54,59.21 L146.67,60.24 L146.8,59.53 L146.93,59.48 L147.06,59.39 L147.19,59.08 L147.32,59.72 L147.45,59.86 L147.58,59.08 L147.72,59.24 L147.85,58.7 L147.98,59.19 L148.11,58.63 L148.24,59.12 L148.37,58.38 L148.5,58.97 L148.63,58.71 L148.76,59.69 L148.89,59.82 L149.02,59.8 L149.15,59.54 L149.28,59.22 L149.41,59.39 L149.54,59.32 L149.67,60.03 L149.8,59.61 L149.93,60.03 L150.06,60.18 L150.19,59.98 L150.32,60.32 L150.45,60.81 L150.58,60.06 L150.71,60.2 L150.84,59.85 L150.97,60.06 L151.11,59.49 L151.24,59.74 L151.37,60.16 L151.5,60.32 L151.63,60.43 L151.76,60.9 L151.89,60.17 L152.02,60.12 L152.15,60.83 L152.28,60.54 L152.41,59.81 L152.54,60.31 L152.67,59.28 L152.8,59.18 L152.93,59.62 L153.06,60.26 L153.19,59.46 L153.32,59.59 L153.45,60.2 L153.58,60.17 L153.71,60.62 L153.71,105.35 L153.84,103.15 L153.97,100.87 L154.1,99.92 L154.23,98.34 L154.36,97.6 L154.49,96.81 L154.63,96.51 L154.76,96.59 L154.89,95.55 L155.02,95.04 L155.15,94.91 L155.28,94.97 L155.41,93.76 L155.54,93.36 L155.67,93.14 L155.8,94.03 L155.93,94.18 L156.06,94.3 L156.19,93.25 L156.32,92.94 L156.45,91.8 L156.58,91.77 L156.71,91.36 L156.84,90.69 L156.97,90.99 L157.1,90.24 L157.23,90.27 L157.36,90.49 L157.49,89.61 L157.62,89.63 L157.75,89.79 L157.88,90.35 L158.01,90.33 L158.15,89.77 L158.28,90.18 L158.41,89.27 L158.54,89.52 L158.67,88.77 L158.8,88.77 L158.93,88.14 L159.06,87.55 L159.19,86.59 L159.32,86.48 L159.45,86.13 L159.58,85.67 L159.71,86.24 L159.84,85.44 L159.97,85.11 L160.1,85.68 L160.23,84.61 L160.36,84.42 L160.49,83.68 L160.62,83.34 L160.75,82.95 L160.88,82.58 L161.01,82.04 L161.14,81.29 L161.27,81.26 L161.4,81.62 L161.53,81.28 L161.67,81.19 L161.8,80.3 L161.93,80.16 L162.06,80.05 L162.19,79.65 L162.32,79.01 L162.45,79.05 L162.58,79.11 L162.71,79.4 L162.84,79.64 L162.97,77.38 L163.1,77.65 L163.23,78.71 L163.36,77.3 L163.49,77.71 L163.62,78.12 L163.75,76.7 L163.88,76.9 L164.01,76.68 L164.14,74.79 L164.27,73.85 L164.4,74.96 L164.53,75.48 L164.66,74.95 L164.79,74.57 L164.92,74.24 L165.06,74.21 L165.19,74.53 L165.32,74.36 L165.45,74.57 L165.58,74.06 L165.71,73.73 L165.84,72.39 L165.97,70.98 L166.1,71.27 L166.23,71.66 L166.36,69.58 L166.49,71.69 L166.62,71.4 L166.75,70.23 L166.88,70.03 L167.01,70.84 L167.14,69.96 L167.27,70.8 L167.4,69.59 L167.53,68.83 L167.66,67.46 L167.79,65.89 L167.92,64.85 L168.05,63.85 L168.18,63.58 L168.31,62.74 L168.44,62.95 L168.58,61.1 L168.71,61.78 L168.84,62.5 L168.97,63.58 L169.1,62.7 L169.23,62.87 L169.36,65.25 L169.49,63.97 L169.62,63.15 L169.75,64.7 L169.88,66.45 L170.01,67.26 L170.14,67.04 L170.27,65.52 L170.4,65.46 L170.53,65.03 L170.66,63.9 L170.79,65.11 L170.92,66.11 L171.05,69.31 L171.18,65.47 L171.31,66.82 L171.44,66.84 L171.57,65.36 L171.7,67.36 L171.83,64.3 L171.97,63.89 L172.1,63.34 L172.23,62.29 L172.36,61.17 L172.49,62.46 L172.62,61.99 L172.75,62.13 L172.88,63.62 L173.01,63.41 L173.14,62.65 L173.27,64.91 L173.4,66.88 L173.53,68.24 L173.66,68.02 L173.79,69.34 L173.92,66.31 L174.05,67.48 L174.18,67.31 L174.31,67.23 L174.44,66.81 L174.57,65.65 L174.7,65.21 L174.83,66.77 L174.96,65.65 L175.09,65.65 L175.22,63.63 L175.35,63.87 L175.49,62.94 L175.62,64.84 L175.75,63.37 L175.88,66.01 L176.01,64.35 L176.14,66.55 L176.27,65.85 L176.4,66.29 L176.53,67.02 L176.66,67.52 L176.79,65.66 L176.92,65.5 L177.05,65.65 L177.18,65.88 L177.31,67.78 L177.44,68.13 L177.57,68.43 L177.7,67.5 L177.83,67.11 L177.96,66.39 L178.09,67.5 L178.22,67.3 L178.35,66.82 L178.48,65.31 L178.61,67.78 L178.74,67.12 L178.87,69.08 L179.01,71.21 L179.14,68.25 L179.27,71.65 L179.4,70.9 L179.53,70.29 L179.66,69.83 L179.79,72.08 L179.79,32.54 L179.92,39.08 L180.05,42.68 L180.18,45.39 L180.31,47.04 L180.44,48.83 L180.57,50.59 L180.7,52.31 L180.83,53.46 L180.96,54.04 L181.09,54.07 L181.22,54.84 L181.35,55.61 L181.48,55.35 L181.61,54.35 L181.74,55.04 L181.87,54.13 L182,54.85 L182.13,55.73 L182.26,56.05 L182.39,55.84 L182.53,55.44 L182.66,55.07 L182.79,56.51 L182.92,56.31 L183.05,56.8 L183.18,56.54 L183.31,56.15 L183.44,55.73 L183.57,56.74 L183.7,57.27 L183.83,56.77 L183.96,57.3 L184.09,57.75 L184.22,57.53 L184.35,57.32 L184.48,57.83 L184.61,57.06 L184.74,56.36 L184.87,56.53 L185,56.7 L185.13,57.13 L185.26,57.24 L185.39,57.45 L185.52,57.87 L185.65,57.58 L185.78,58.22 L185.92,57.59 L186.05,57.79 L186.18,57.58 L186.31,56.72 L186.44,57.51 L186.57,57.83 L186.7,58.86 L186.83,58.98 L186.96,58.69 L187.09,57.88 L187.22,57.52 L187.35,57.52 L187.48,58.88 L187.61,58.82 L187.74,58.3 L187.87,58.82 L188,59.16 L188.13,59.53 L188.26,59.2 L188.39,58.9 L188.52,58.13 L188.65,58.46 L188.78,57.9 L188.91,57.92 L189.04,57.5 L189.17,58.55 L189.3,58.67 L189.44,59.24 L189.57,59.56 L189.7,58.65 L189.83,59.71 L189.96,57.68 L190.09,57.93 L190.22,58.75 L190.35,59.52 L190.48,58.79 L190.61,58.89 L190.74,58.99 L190.87,59.28 L191,59.19 L191.13,58.74 L191.26,58.85 L191.39,59.09 L191.52,58.33 L191.65,58.13 L191.78,58.24 L191.91,59.21 L192.04,59.22 L192.17,59.25 L192.3,58.75 L192.43,59.05 L192.56,59.57 L192.69,58.97 L192.82,58.65 L192.96,58.22 L193.09,58.18 L193.22,58.15 L193.35,59.52 L193.48,59.09 L193.61,58.79 L193.74,58.76 L193.87,59.12 L194,58.69 L194.13,58.93 L194.26,59.5 L194.39,59.05 L194.52,59.22 L194.65,58.08 L194.78,58.49 L194.91,58.43 L195.04,58.29 L195.17,58.22 L195.3,58.48 L195.43,58.14 L195.56,58.28 L195.69,58.37 L195.82,58.25 L195.95,58.87 L196.08,58.35 L196.21,58.35 L196.35,59.51 L196.48,59.75 L196.61,59.78 L196.74,59.63 L196.87,59.65 L197,59.97 L197.13,60.21 L197.26,60.14 L197.39,60.23 L197.52,60.43 L197.65,61 L197.78,60.88 L197.91,60.33 L198.04,59.86 L198.17,59.65 L198.3,59.93 L198.43,60.61 L198.56,60.71 L198.69,60.15 L198.82,59.58 L198.95,59.97 L199.08,60.77 L199.21,61.07 L199.34,60.15 L199.47,60.44 L199.6,59.62 L199.73,60.11 L199.87,59.19 L200,59.18 L200.13,59.73 L200.26,59.62 L200.39,58.51 L200.52,58.81 L200.65,59.5 L200.78,59.51 L200.91,59.86 L201.04,59.79 L201.17,58.8 L201.3,59.63 L201.43,58.17 L201.56,58.53 L201.69,58.86 L201.82,58.13 L201.95,59.21 L202.08,59.97 L202.21,59.32 L202.34,59.29 L202.47,58.74 L202.6,59.02 L202.73,58.6 L202.86,58.42 L202.99,58.9 L203.12,59.32 L203.25,59.23 L203.39,58.92 L203.52,58.82 L203.65,59.44 L203.78,59.62 L203.91,60.08 L204.04,60.34 L204.17,60.49 L204.3,61.04 L204.43,61.35 L204.56,60.53 L204.69,60.37 L204.82,59.81 L204.95,60.59 L205.08,59.57 L205.21,59.7 L205.34,59.72 L205.47,60.24 L205.6,60.27 L205.73,59.94 L205.86,60.29 L205.86,105.35 L205.99,103.27 L206.12,100.97 L206.25,98.86 L206.38,98.05 L206.51,96.94 L206.64,96.15 L206.78,95.8 L206.91,94.99 L207.04,93.55 L207.17,94.11 L207.3,94.4 L207.43,94.27 L207.56,92.94 L207.69,92.28 L207.82,92.18 L207.95,91.66 L208.08,92 L208.21,90.93 L208.34,91.06 L208.47,90.55 L208.6,90.37 L208.73,90.04 L208.86,90.13 L208.99,90.18 L209.12,91.29 L209.25,91.01 L209.38,90.74 L209.51,90.42 L209.64,90.3 L209.77,90.13 L209.9,90.06 L210.03,89.22 L210.16,88.54 L210.3,87.91 L210.43,87.04 L210.56,87.26 L210.69,87.14 L210.82,87.63 L210.95,86.9 L211.08,86.28 L211.21,86.06 L211.34,85.91 L211.47,85.69 L211.6,85.6 L211.73,85.24 L211.86,84.72 L211.99,85.35 L212.12,83.78 L212.25,82.72 L212.38,83.25 L212.51,82.4 L212.64,81.65 L212.77,81.27 L212.9,80.28 L213.03,80.57 L213.16,79.21 L213.29,80.1 L213.42,79.7 L213.55,79.02 L213.69,80.16 L213.82,80.02 L213.95,78.89 L214.08,79.78 L214.21,77.99 L214.34,77.6 L214.47,77.54 L214.6,76.23 L214.73,76.71 L214.86,76.17 L214.99,76.95 L215.12,75.81 L215.25,74.71 L215.38,74.29 L215.51,72.83 L215.64,71.23 L215.77,71.09 L215.9,71.11 L216.03,69.36 L216.16,68.57 L216.29,69.75 L216.42,68.67 L216.55,67.55 L216.68,68.1 L216.81,67.25 L216.94,67.91 L217.07,66.45 L217.21,67.68 L217.34,67.92 L217.47,67.95 L217.6,66.47 L217.73,65.69 L217.86,66.47 L217.99,65.97 L218.12,65.73 L218.25,65.5 L218.38,64.51 L218.51,65.16 L218.64,67.13 L218.77,67.34 L218.9,65.69 L219.03,67.51 L219.16,66.9 L219.29,70.31 L219.42,69.46 L219.55,69.03 L219.68,68.14 L219.81,67.92 L219.94,67.12 L220.07,68.38 L220.2,68.32 L220.33,70.57 L220.46,69.99 L220.59,70.59 L220.73,66.64 L220.86,67.96 L220.99,66.83 L221.12,65 L221.25,64.95 L221.38,65.3 L221.51,64.03 L221.64,65.73 L221.77,64.04 L221.9,65.32 L222.03,65.84 L222.16,64.61 L222.29,63.89 L222.42,65.81 L222.55,64.98 L222.68,64.97 L222.81,65.51 L222.94,64.59 L223.07,64.39 L223.2,66.23 L223.33,66.61 L223.46,67.17 L223.59,66.18 L223.72,67.2 L223.85,67.74 L223.98,66.39 L224.12,64.83 L224.25,67.42 L224.38,65.57 L224.51,65.12 L224.64,64.58 L224.77,65.76 L224.9,66.59 L225.03,66.88 L225.16,66 L225.29,68.45 L225.42,65.31 L225.55,66.48 L225.68,67.11 L225.81,67.06 L225.94,68.1 L226.07,68.2 L226.2,69.51 L226.33,69.3 L226.46,67.56 L226.59,67.39 L226.72,66.63 L226.85,64.76 L226.98,65.84 L227.11,65.35 L227.24,64.99 L227.37,64.09 L227.5,64.62 L227.64,64.22 L227.77,63.07 L227.9,63.92 L228.03,62.63 L228.16,64.37 L228.29,63.51 L228.42,63.09 L228.55,61.4 L228.68,64.19 L228.81,64.8 L228.94,66.21 L229.07,67.83 L229.2,67.29 L229.33,67.72 L229.46,65.85 L229.59,67.29 L229.72,67.31 L229.85,68.16 L229.98,67.3 L230.11,67.46 L230.24,68.36 L230.37,66.97 L230.5,65.42 L230.63,69.33 L230.76,68.79 L230.89,69.9 L231.02,69.3 L231.16,70.88 L231.29,71.45 L231.42,70.69 L231.55,70.01 L231.68,67.15 L231.81,69.06 L231.94,69.81 L231.94,34.18 L232.07,38.58 L232.2,41.94 L232.33,44.35 L232.46,47.33 L232.59,48.8 L232.72,51.57 L232.85,52.84 L232.98,53.38 L233.11,53.97 L233.24,53.61 L233.37,54.42 L233.5,55.25 L233.63,56.41 L233.76,56.46 L233.89,56.39 L234.02,56.36 L234.15,57.02 L234.28,56.86 L234.41,57.39 L234.55,56.66 L234.68,56.42 L234.81,55.56 L234.94,56.5 L235.07,56.42 L235.2,56.52 L235.33,56.51 L235.46,57.25 L235.59,57.13 L235.72,56.71 L235.85,56.69 L235.98,57.1 L236.11,56.43 L236.24,57.23 L236.37,57.86 L236.5,56.61 L236.63,57.19 L236.76,58.11 L236.89,57.25 L237.02,57.42 L237.15,56.84 L237.28,56.46 L237.41,57.72 L237.54,58.07 L237.67,58.33 L237.8,57.65 L237.93,58.65 L238.07,58.31 L238.2,58.95 L238.33,59.06 L238.46,59.49 L238.59,59.67 L238.72,60.01 L238.85,59.59 L238.98,58.66 L239.11,58.25 L239.24,57.87 L239.37,57.96 L239.5,57.66 L239.63,57.44 L239.76,57.89 L239.89,58.48 L240.02,57.54 L240.15,57.61 L240.28,58.35 L240.41,57.7 L240.54,57.41 L240.67,58.19 L240.8,57.35 L240.93,58.2 L241.06,58.36 L241.19,59.23 L241.32,57.94 L241.45,58.84 L241.59,58.45 L241.72,57.89 L241.85,59.12 L241.98,58.61 L242.11,58.3 L242.24,58.18 L242.37,57.93 L242.5,58.47 L242.63,58.42 L242.76,58.62 L242.89,57.61 L243.02,57.3 L243.15,57.94 L243.28,58.56 L243.41,58.76 L243.54,58.75 L243.67,58.57 L243.8,58.81 L243.93,58.62 L244.06,59.14 L244.19,57.86 L244.32,57.4 L244.45,58.72 L244.58,58.81 L244.71,58.18 L244.84,58 L244.98,58.22 L245.11,58.64 L245.24,59.25 L245.37,59.78 L245.5,59.47 L245.63,59.29 L245.76,58.7 L245.89,58.7 L246.02,59.31 L246.15,59 L246.28,58.89 L246.41,59.26 L246.54,59.75 L246.67,60.54 L246.8,60.52 L246.93,60.34 L247.06,60.57 L247.19,60.83 L247.32,60.17 L247.45,60.06 L247.58,60.74 L247.71,60.02 L247.84,59.51 L247.97,58.65 L248.1,58.03 L248.23,58.26 L248.36,58.93 L248.5,58.62 L248.63,59.42 L248.76,59.27 L248.89,59.83 L249.02,60.65 L249.15,59.92 L249.28,59.2 L249.41,58.73 L249.54,58.81 L249.67,58.54 L249.8,59.78 L249.93,60.93 L250.06,60.16 L250.19,60.21 L250.32,60.54 L250.45,60.14 L250.58,59.68 L250.71,60.34 L250.84,60 L250.97,60.26 L251.1,60.69 L251.23,61.13 L251.36,60.67 L251.49,60.11 L251.62,59.35 L251.75,59.77 L251.88,59.07 L252.02,59.48 L252.15,60.28 L252.28,60 L252.41,59.45 L252.54,60.04 L252.67,59.56 L252.8,60.19 L252.93,60.45 L253.06,60.15 L253.19,59.71 L253.32,60.7 L253.45,59.81 L253.58,61.24 L253.71,59.54 L253.84,59.97 L253.97,60.67 L254.1,60 L254.23,60.61 L254.36,59.38 L254.49,59.34 L254.62,59.76 L254.75,59.16 L254.88,59.83 L255.01,59.9 L255.14,60.55 L255.27,59.42 L255.4,60.11 L255.54,60.49 L255.67,59.75 L255.8,59.59 L255.93,59.33 L256.06,59.51 L256.19,58.58 L256.32,59.3 L256.45,59.57 L256.58,60.13 L256.71,59.49 L256.84,59.76 L256.97,58.51 L257.1,59.78 L257.23,59.2 L257.36,59.46 L257.49,59.81 L257.62,60.01 L257.75,61.55 L257.88,60.93 L258.01,60.56 L258.01,105.35 L258.14,103.73 L258.27,101.85 L258.4,100.5 L258.53,100.5 L258.66,99.61 L258.79,99.95 L258.93,97.68 L259.06,97.6 L259.19,96.27 L259.32,96.36 L259.45,96.19 L259.58,96.84 L259.71,95.77 L259.84,95.19 L259.97,94.02 L260.1,93.25 L260.23,92.37 L260.36,91.9 L260.49,93.1 L260.62,92.27 L260.75,91.73 L260.88,91.31 L261.01,91.36 L261.14,90.77 L261.27,90.84 L261.4,90.5 L261.53,90.47 L261.66,90.45 L261.79,90.62 L261.92,89.38 L262.05,89.12 L262.18,88.97 L262.31,89.53 L262.45,89.16 L262.58,88.6 L262.71,88.15 L262.84,88.66 L262.97,87.8 L263.1,88.36 L263.23,87.74 L263.36,87.9 L263.49,87.8 L263.62,88.43 L263.75,88.43 L263.88,87.68 L264.01,86.23 L264.14,86.07 L264.27,86 L264.4,85.59 L264.53,84.82 L264.66,85.64 L264.79,84.35 L264.92,84.14 L265.05,83.03 L265.18,83.34 L265.31,83.68 L265.44,83.75 L265.57,83.21 L265.7,83.61 L265.83,82.18 L265.97,81.68 L266.1,81.17 L266.23,81.27 L266.36,80.92 L266.49,80.86 L266.62,80.23 L266.75,79.74 L266.88,79.87 L267.01,78.89 L267.14,77.56 L267.27,78.7 L267.4,77.62 L267.53,78.15 L267.66,78.91 L267.79,78.46 L267.92,77.94 L268.05,77.29 L268.18,77.46 L268.31,77.45 L268.44,76.33 L268.57,75.98 L268.7,74.58 L268.83,75.19 L268.96,75.4 L269.09,74.34 L269.22,74.57 L269.36,75.43 L269.49,73.52 L269.62,73.46 L269.75,73.29 L269.88,72.32 L270.01,73.07 L270.14,72.81 L270.27,73.09 L270.4,74.3 L270.53,74.2 L270.66,73.99 L270.79,73.02 L270.92,71.63 L271.05,72.02 L271.18,70.59 L271.31,70.58 L271.44,70.61 L271.57,69.37 L271.7,68.63 L271.83,68.33 L271.96,68.62 L272.09,68.27 L272.22,67.66 L272.35,68.25 L272.48,68.63 L272.61,68.54 L272.74,67.07 L272.88,65.89 L273.01,66 L273.14,65.61 L273.27,66.57 L273.4,66.53 L273.53,67.63 L273.66,66.17 L273.79,68.77 L273.92,66.89 L274.05,65.98 L274.18,65.8 L274.31,67.04 L274.44,67.47 L274.57,65.36 L274.7,63.73 L274.83,65.57 L274.96,65.25 L275.09,67.5 L275.22,67.99 L275.35,67.85 L275.48,68.04 L275.61,67.37 L275.74,66.33 L275.87,65.26 L276,65.2 L276.13,63.46 L276.26,64.09 L276.4,65.46 L276.53,67.05 L276.66,67.64 L276.79,67.55 L276.92,66.96 L277.05,65.27 L277.18,66.33 L277.31,67.8 L277.44,69.12 L277.57,70.19 L277.7,68.23 L277.83,67.93 L277.96,68.42 L278.09,68.82 L278.22,68.81 L278.35,67.8 L278.48,66.81 L278.61,65.9 L278.74,65.37 L278.87,67.55 L279,67.24 L279.13,67.29 L279.26,67.95 L279.39,67.96 L279.52,65.79 L279.65,65.03 L279.79,65.01 L279.92,66.75 L280.05,66.02 L280.18,66.57 L280.31,66.34 L280.44,65.59 L280.57,64.35 L280.7,65.07 L280.83,66.09 L280.96,64.72 L281.09,65.1 L281.22,65.63 L281.35,64.79 L281.48,63.14 L281.61,64 L281.74,62.86 L281.87,64.04 L282,61.69 L282.13,63.13 L282.26,64.77 L282.39,64.27 L282.52,65.1 L282.65,66.61 L282.78,69.28 L282.91,68.01 L283.04,69.63 L283.17,69.76 L283.31,71.8 L283.44,71.76 L283.57,73.05 L283.7,70.73 L283.83,71.98 L283.96,72.55 L284.09,70.69 L284.09,33.7 L284.22,39.47 L284.35,44.73 L284.48,45.74 L284.61,48.64 L284.74,50.98 L284.87,52.63 L285,53.41 L285.13,54.15 L285.26,54.98 L285.39,55.1 L285.52,54.43 L285.65,54.96 L285.78,55.61 L285.91,54.89 L286.04,55.57 L286.17,55.54 L286.3,55.49 L286.43,55.36 L286.56,54.9 L286.69,56.45 L286.83,56.5 L286.96,55.69 L287.09,55.71 L287.22,55.98 L287.35,55.73 L287.48,55.72 L287.61,56.92 L287.74,56.51 L287.87,55.36 L288,56.1 L288.13,56.27 L288.26,56.07 L288.39,55.53 L288.52,55.95 L288.65,55.9 L288.78,55.91 L288.91,56.34 L289.04,56.87 L289.17,56.64 L289.3,55.82 L289.43,56.1 L289.56,55.91 L289.69,56.29 L289.82,56.27 L289.95,56.11 L290.08,56.55 L290.22,55.7 L290.35,56.91 L290.48,57.41 L290.61,57.6 L290.74,57.88 L290.87,58.09 L291,58.58 L291.13,58.49 L291.26,59.02 L291.39,58.64 L291.52,58.42 L291.65,58.6 L291.78,58.74 L291.91,57.71 L292.04,58.2 L292.17,57.4 L292.3,57.79 L292.43,57.39 L292.56,56.93 L292.69,57.57 L292.82,58.5 L292.95,58.14 L293.08,58.31 L293.21,57.85 L293.34,57.48 L293.47,57.89 L293.6,57.76 L293.74,57.97 L293.87,58.61 L294,59.16 L294.13,58.72 L294.26,59.45 L294.39,60.26 L294.52,58.51 L294.65,59.78 L294.78,59.39 L294.91,59 L295.04,58.75 L295.17,59.47 L295.3,58.75 L295.43,59.23 L295.56,58.98 L295.69,58.46 L295.82,58.51 L295.95,59.21 L296.08,58.59 L296.21,58.85 L296.34,59.48 L296.47,59.71 L296.6,59.37 L296.73,58.86 L296.86,58.38 L296.99,58.49 L297.12,58.41 L297.26,58.04 L297.39,58.69 L297.52,59.13 L297.65,59.98 L297.78,59.25 L297.91,60.05 L298.04,60.22 L298.17,59.3 L298.3,60.25 L298.43,59.52 L298.56,60.49 L298.69,60.26 L298.82,59.9 L298.95,59.08 L299.08,60.24 L299.21,59.53 L299.34,59.15 L299.47,59.88 L299.6,60.22 L299.73,60.57 L299.86,61.06 L299.99,61.07 L300.12,60.93 L300.25,60.67 L300.38,59.84 L300.51,59.89 L300.65,59.15 L300.78,59.4 L300.91,58.81 L301.04,58.17 L301.17,59.6 L301.3,58.9 L301.43,59.68 L301.56,59.08 L301.69,58.82 L301.82,58.84 L301.95,58.71 L302.08,59.25 L302.21,59.2 L302.34,59.74 L302.47,59.5 L302.6,59.62 L302.73,60.17 L302.86,59.94 L302.99,60.55 L303.12,60.07 L303.25,59.27 L303.38,60.16 L303.51,59.86 L303.64,59.98 L303.77,60.92 L303.9,60.9 L304.03,60.6 L304.17,60.08 L304.3,60.2 L304.43,60.11 L304.56,59.64 L304.69,59.84 L304.82,60.13 L304.95,60.09 L305.08,59.38 L305.21,59.5 L305.34,60.76 L305.47,60.8 L305.6,60.48 L305.73,61.72 L305.86,61.83 L305.99,61.6 L306.12,61.55 L306.25,61.4 L306.38,60.97 L306.51,60.82 L306.64,60.43 L306.77,60.44 L306.9,60.62 L307.03,61.01 L307.16,60.94 L307.29,60.54 L307.42,60.83 L307.56,61.64 L307.69,61.07 L307.82,60.79 L307.95,60.13 L308.08,60.34 L308.21,60.58 L308.34,60.48 L308.47,61.1 L308.6,61.15 L308.73,61.53 L308.86,61.53 L308.99,61.15 L309.12,60.6 L309.25,60.82 L309.38,60.48 L309.51,60.12 L309.64,60.03 L309.77,60.14 L309.9,60.16 L310.03,60.5 L310.16,59.96 L310.16,105.35 L310.29,102.13 L310.42,99.99 L310.55,99.33 L310.68,97.99 L310.81,96.1 L310.94,96.64 L311.08,96.99 L311.21,95.83 L311.34,95.26 L311.47,95.83 L311.6,94.45 L311.73,93.75 L311.86,93.33 L311.99,93 L312.12,92.17 L312.25,92.95 L312.38,91.97 L312.51,91.43 L312.64,91.82 L312.77,91.72 L312.9,90.58 L313.03,90.31 L313.16,89.68 L313.29,89.68 L313.42,90.19 L313.55,90.07 L313.68,89.56 L313.81,89.63 L313.94,90.1 L314.07,88.91 L314.2,88.03 L314.33,88.15 L314.46,88.28 L314.6,88.03 L314.73,88.18 L314.86,87.61 L314.99,88.27 L315.12,87.39 L315.25,87.85 L315.38,87.15 L315.51,86.77 L315.64,86.03 L315.77,85.58 L315.9,84.98 L316.03,85.93 L316.16,84.3 L316.29,83.63 L316.42,83.7 L316.55,83.34 L316.68,82.94 L316.81,82.04 L316.94,81.56 L317.07,80.87 L317.2,81.47 L317.33,80.38 L317.46,80.43 L317.59,79.95 L317.72,79.62 L317.85,78.32 L317.99,79.43 L318.12,78.93 L318.25,78.35 L318.38,78.3 L318.51,78.74 L318.64,77.25 L318.77,77.34 L318.9,76.23 L319.03,76.97 L319.16,76.51 L319.29,74.64 L319.42,74.5 L319.55,75.07 L319.68,73.75 L319.81,73.81 L319.94,73.43 L320.07,73.5 L320.2,73.31 L320.33,72.57 L320.46,72.1 L320.59,71.53 L320.72,71.73 L320.85,72.45 L320.98,72.26 L321.11,72.06 L321.24,71.4 L321.37,70.32 L321.51,68.82 L321.64,67.66 L321.77,68.77 L321.9,69.47 L322.03,68.57 L322.16,68.09 L322.29,68.1 L322.42,68.67 L322.55,68.74 L322.68,68.47 L322.81,69.43 L322.94,68.58 L323.07,69.04 L323.2,68.99" fill="none" stroke="#2a6cb5" stroke-width="1.35" stroke-linejoin="round" />
<rect x="62.5" y="13.5" width="260.9" height="219" fill="none" stroke="#231f20" stroke-width="1.2"/>
<line x1="62.45" y1="232.5" x2="62.45" y2="236.9" stroke="#231f20" stroke-width="1.2" />
<text x="60.3" y="253" font-size="16" text-anchor="middle" fill="#231f20" font-weight="normal" font-style="normal" >0</text>
<line x1="88.53" y1="232.5" x2="88.53" y2="235" stroke="#231f20" stroke-width="1.2" />
<line x1="114.6" y1="232.5" x2="114.6" y2="236.9" stroke="#231f20" stroke-width="1.2" />
<text x="114.7" y="253" font-size="16" text-anchor="middle" fill="#231f20" font-weight="normal" font-style="normal" >10</text>
<line x1="140.68" y1="232.5" x2="140.68" y2="235" stroke="#231f20" stroke-width="1.2" />
<line x1="166.75" y1="232.5" x2="166.75" y2="236.9" stroke="#231f20" stroke-width="1.2" />
<text x="166.1" y="253" font-size="16" text-anchor="middle" fill="#231f20" font-weight="normal" font-style="normal" >20</text>
<line x1="192.82" y1="232.5" x2="192.82" y2="235" stroke="#231f20" stroke-width="1.2" />
<line x1="218.9" y1="232.5" x2="218.9" y2="236.9" stroke="#231f20" stroke-width="1.2" />
<text x="218.5" y="253" font-size="16" text-anchor="middle" fill="#231f20" font-weight="normal" font-style="normal" >30</text>
<line x1="244.98" y1="232.5" x2="244.98" y2="235" stroke="#231f20" stroke-width="1.2" />
<line x1="271.05" y1="232.5" x2="271.05" y2="236.9" stroke="#231f20" stroke-width="1.2" />
<text x="270.6" y="253" font-size="16" text-anchor="middle" fill="#231f20" font-weight="normal" font-style="normal" >40</text>
<line x1="297.12" y1="232.5" x2="297.12" y2="235" stroke="#231f20" stroke-width="1.2" />
<line x1="323.2" y1="232.5" x2="323.2" y2="236.9" stroke="#231f20" stroke-width="1.2" />
<text x="322.9" y="253" font-size="16" text-anchor="middle" fill="#231f20" font-weight="normal" font-style="normal" >50</text>
<line x1="58" y1="214.24" x2="62.5" y2="214.24" stroke="#231f20" stroke-width="1.2" />
<text x="54.2" y="218.54" font-size="16" text-anchor="end" fill="#231f20" font-weight="normal" font-style="normal" >1</text>
<line x1="60.2" y1="183.82" x2="62.5" y2="183.82" stroke="#231f20" stroke-width="1.2" />
<line x1="58" y1="153.41" x2="62.5" y2="153.41" stroke="#231f20" stroke-width="1.2" />
<text x="54.2" y="157.71" font-size="16" text-anchor="end" fill="#231f20" font-weight="normal" font-style="normal" >2</text>
<line x1="60.2" y1="122.99" x2="62.5" y2="122.99" stroke="#231f20" stroke-width="1.2" />
<line x1="58" y1="92.58" x2="62.5" y2="92.58" stroke="#231f20" stroke-width="1.2" />
<text x="54.2" y="96.88" font-size="16" text-anchor="end" fill="#231f20" font-weight="normal" font-style="normal" >3</text>
<line x1="60.2" y1="62.16" x2="62.5" y2="62.16" stroke="#231f20" stroke-width="1.2" />
<line x1="58" y1="31.75" x2="62.5" y2="31.75" stroke="#231f20" stroke-width="1.2" />
<text x="54.2" y="36.05" font-size="16" text-anchor="end" fill="#231f20" font-weight="normal" font-style="normal" >4</text>
<text x="192.9" y="273.4" font-size="16" text-anchor="middle" fill="#231f20" font-weight="normal" font-style="normal" >Time (s)</text>
<text x="0" y="0" font-size="16" text-anchor="middle" fill="#231f20" font-weight="normal" font-style="normal" transform="translate(13.8,130) rotate(-90)">Integrated intensity</text>
<text x="0" y="0" font-size="16" text-anchor="middle" fill="#231f20" font-weight="normal" font-style="normal" transform="translate(33.3,131) rotate(-90)">(×10<tspan font-size="9.8" dy="-4.6" stroke="#231f20" stroke-width="0.3">5</tspan><tspan dy="4.6"> counts)</tspan></text>
<text x="267" y="103.7" font-size="13.3" text-anchor="start" fill="#2a76bb" font-weight="normal" font-style="normal" >± 10 V</text>
<text x="267" y="161.6" font-size="13.3" text-anchor="start" fill="#e8323c" font-weight="normal" font-style="normal" >± 3 V</text>
<text x="267" y="219.1" font-size="13.3" text-anchor="start" fill="#231f20" font-weight="normal" font-style="normal" >± 1 V</text>
<text x="4" y="13.8" font-size="16" text-anchor="start" fill="#231f20" font-weight="bold" font-style="normal" >a</text>
<path d="M436.35,103.3 L438.33,102.52 L440.31,101.75 L442.28,100.99 L444.26,100.25 L446.24,99.52 L448.22,98.81 L450.19,98.1 L452.17,97.41 L454.15,96.72 L456.13,96.05 L458.11,95.39 L460.08,94.75 L462.06,94.11 L464.04,93.48 L466.02,92.87 L467.99,92.26 L469.97,91.66 L471.95,91.08 L473.93,90.5 L475.9,89.93 L477.88,89.38 L479.86,88.83 L481.84,88.29 L483.82,87.76 L485.79,87.24 L487.77,86.73 L489.75,86.22 L491.73,85.73 L493.7,85.24 L495.68,84.76 L497.66,84.29 L499.64,83.83 L501.62,83.38 L503.59,82.93 L505.57,82.49 L507.55,82.05 L509.53,81.63 L511.5,81.21 L513.48,80.8 L515.46,80.4 L517.44,80 L519.41,79.61 L521.39,79.22 L523.37,78.84 L525.35,78.47 L527.33,78.11 L529.3,77.75 L531.28,77.39 L533.26,77.05 L535.24,76.7 L537.21,76.37 L539.19,76.04 L541.17,75.71 L543.15,75.39 L545.13,75.08 L547.1,74.77 L549.08,74.47 L551.06,74.17 L553.04,73.87 L555.01,73.58 L556.99,73.3 L558.97,73.02 L560.95,72.75 L562.92,72.48 L564.9,72.21 L566.88,71.95 L568.86,71.69 L570.84,71.44 L572.81,71.19 L574.79,70.95 L576.77,70.71 L578.75,70.47 L580.72,70.24 L582.7,70.01 L584.68,69.79 L586.66,69.57 L588.64,69.35 L590.61,69.14 L592.59,68.93 L594.57,68.72 L596.55,68.52 L598.52,68.32 L600.5,68.12 L602.48,67.93 L604.46,67.74 L606.43,67.55 L608.41,67.37 L610.39,67.19 L612.37,67.01 L614.35,66.84 L616.32,66.67 L618.3,66.5 L620.28,66.33 L622.26,66.17 L624.23,66.01 L626.21,65.85 L628.19,65.7 L630.17,65.55 L632.15,65.4 L634.12,65.25 L636.1,65.1 L638.08,64.96 L640.06,64.82 L642.03,64.68 L644.01,64.55 L645.99,64.42 L647.97,64.28 L649.94,64.16 L651.92,64.03 L653.9,63.9 L655.88,63.78 L657.86,63.66 L659.83,63.54 L661.81,63.43 L663.79,63.31 L665.77,63.2 L667.74,63.09 L669.72,62.98 L671.7,62.87" fill="none" stroke="#111" stroke-width="1.3" stroke-linejoin="round" />
<path d="M436.35,132.21 L438.33,133.58 L440.31,134.93 L442.28,136.25 L444.26,137.56 L446.24,138.84 L448.22,140.1 L450.19,141.34 L452.17,142.56 L454.15,143.76 L456.13,144.94 L458.11,146.1 L460.08,147.24 L462.06,148.36 L464.04,149.47 L466.02,150.55 L467.99,151.62 L469.97,152.67 L471.95,153.7 L473.93,154.72 L475.9,155.72 L477.88,156.7 L479.86,157.66 L481.84,158.61 L483.82,159.55 L485.79,160.46 L487.77,161.37 L489.75,162.26 L491.73,163.13 L493.7,163.99 L495.68,164.83 L497.66,165.66 L499.64,166.48 L501.62,167.28 L503.59,168.07 L505.57,168.85 L507.55,169.61 L509.53,170.37 L511.5,171.1 L513.48,171.83 L515.46,172.55 L517.44,173.25 L519.41,173.94 L521.39,174.62 L523.37,175.29 L525.35,175.95 L527.33,176.59 L529.3,177.23 L531.28,177.85 L533.26,178.47 L535.24,179.07 L537.21,179.67 L539.19,180.25 L541.17,180.83 L543.15,181.39 L545.13,181.95 L547.1,182.5 L549.08,183.04 L551.06,183.56 L553.04,184.08 L555.01,184.6 L556.99,185.1 L558.97,185.59 L560.95,186.08 L562.92,186.56 L564.9,187.03 L566.88,187.49 L568.86,187.95 L570.84,188.4 L572.81,188.84 L574.79,189.27 L576.77,189.7 L578.75,190.11 L580.72,190.53 L582.7,190.93 L584.68,191.33 L586.66,191.72 L588.64,192.11 L590.61,192.48 L592.59,192.86 L594.57,193.22 L596.55,193.58 L598.52,193.94 L600.5,194.29 L602.48,194.63 L604.46,194.97 L606.43,195.3 L608.41,195.62 L610.39,195.94 L612.37,196.26 L614.35,196.57 L616.32,196.87 L618.3,197.17 L620.28,197.47 L622.26,197.76 L624.23,198.04 L626.21,198.32 L628.19,198.6 L630.17,198.87 L632.15,199.14 L634.12,199.4 L636.1,199.66 L638.08,199.91 L640.06,200.16 L642.03,200.41 L644.01,200.65 L645.99,200.89 L647.97,201.12 L649.94,201.35 L651.92,201.57 L653.9,201.8 L655.88,202.01 L657.86,202.23 L659.83,202.44 L661.81,202.65 L663.79,202.85 L665.77,203.05 L667.74,203.25 L669.72,203.44 L671.7,203.64" fill="none" stroke="#e8262e" stroke-width="1.3" stroke-linejoin="round" />
<line x1="436.35" y1="101.9" x2="436.35" y2="108.9" stroke="#4d4d4d" stroke-width="1.1" />
<line x1="432.75" y1="101.9" x2="439.95" y2="101.9" stroke="#4d4d4d" stroke-width="1.1" />
<line x1="432.75" y1="108.9" x2="439.95" y2="108.9" stroke="#4d4d4d" stroke-width="1.1" />
<path d="M436.35,100.5 L441.05,105.4 L436.35,110.3 L431.65,105.4 Z" fill="#4d4d4d"/>
<path d="M462.5,87.8 L467.2,92.7 L462.5,97.6 L457.8,92.7 Z" fill="#4d4d4d"/>
<line x1="488.65" y1="78.7" x2="488.65" y2="90.7" stroke="#4d4d4d" stroke-width="1.1" />
<line x1="485.05" y1="78.7" x2="492.25" y2="78.7" stroke="#4d4d4d" stroke-width="1.1" />
<line x1="485.05" y1="90.7" x2="492.25" y2="90.7" stroke="#4d4d4d" stroke-width="1.1" />
<path d="M488.65,79.8 L493.35,84.7 L488.65,89.6 L483.95,84.7 Z" fill="#4d4d4d"/>
<path d="M514.8,76.6 L519.5,81.5 L514.8,86.4 L510.1,81.5 Z" fill="#4d4d4d"/>
<line x1="540.95" y1="68.5" x2="540.95" y2="81.3" stroke="#4d4d4d" stroke-width="1.1" />
<line x1="537.35" y1="68.5" x2="544.55" y2="68.5" stroke="#4d4d4d" stroke-width="1.1" />
<line x1="537.35" y1="81.3" x2="544.55" y2="81.3" stroke="#4d4d4d" stroke-width="1.1" />
<path d="M540.95,70 L545.65,74.9 L540.95,79.8 L536.25,74.9 Z" fill="#4d4d4d"/>
<line x1="567.1" y1="66.9" x2="567.1" y2="78.3" stroke="#4d4d4d" stroke-width="1.1" />
<line x1="563.5" y1="66.9" x2="570.7" y2="66.9" stroke="#4d4d4d" stroke-width="1.1" />
<line x1="563.5" y1="78.3" x2="570.7" y2="78.3" stroke="#4d4d4d" stroke-width="1.1" />
<path d="M567.1,67.7 L571.8,72.6 L567.1,77.5 L562.4,72.6 Z" fill="#4d4d4d"/>
<path d="M593.25,64.1 L597.95,69 L593.25,73.9 L588.55,69 Z" fill="#4d4d4d"/>
<line x1="619.4" y1="56.1" x2="619.4" y2="68.7" stroke="#4d4d4d" stroke-width="1.1" />
<line x1="615.8" y1="56.1" x2="623" y2="56.1" stroke="#4d4d4d" stroke-width="1.1" />
<line x1="615.8" y1="68.7" x2="623" y2="68.7" stroke="#4d4d4d" stroke-width="1.1" />
<path d="M619.4,57.5 L624.1,62.4 L619.4,67.3 L614.7,62.4 Z" fill="#4d4d4d"/>
<line x1="645.55" y1="57.6" x2="645.55" y2="63.6" stroke="#4d4d4d" stroke-width="1.1" />
<line x1="641.95" y1="57.6" x2="649.15" y2="57.6" stroke="#4d4d4d" stroke-width="1.1" />
<line x1="641.95" y1="63.6" x2="649.15" y2="63.6" stroke="#4d4d4d" stroke-width="1.1" />
<path d="M645.55,55.7 L650.25,60.6 L645.55,65.5 L640.85,60.6 Z" fill="#4d4d4d"/>
<path d="M671.7,58.2 L676.4,63.1 L671.7,68 L667,63.1 Z" fill="#4d4d4d"/>
<path d="M436.35,127.8 L441.05,135.7 L431.65,135.7 Z" fill="#e8404a"/>
<line x1="432.55" y1="131.45" x2="440.15" y2="131.45" stroke="#e8404a" stroke-width="1.0" />
<path d="M462.5,142 L467.2,149.8 L457.8,149.8 Z" fill="#e8404a"/>
<line x1="458.7" y1="145.6" x2="466.3" y2="145.6" stroke="#e8404a" stroke-width="1.0" />
<path d="M488.65,154.3 L493.35,162.3 L483.95,162.3 Z" fill="#e8404a"/>
<line x1="484.85" y1="158" x2="492.45" y2="158" stroke="#e8404a" stroke-width="1.0" />
<path d="M514.8,177.3 L519.5,185.1 L510.1,185.1 Z" fill="#e8404a"/>
<path d="M540.95,176.3 L545.65,184.3 L536.25,184.3 Z" fill="#e8404a"/>
<line x1="537.15" y1="180" x2="544.75" y2="180" stroke="#e8404a" stroke-width="1.0" />
<path d="M567.1,181.4 L571.8,188.6 L562.4,188.6 Z" fill="#e8404a"/>
<line x1="563.3" y1="184.7" x2="570.9" y2="184.7" stroke="#e8404a" stroke-width="1.0" />
<path d="M593.25,176.8 L597.95,184.7 L588.55,184.7 Z" fill="#e8404a"/>
<line x1="589.45" y1="180.45" x2="597.05" y2="180.45" stroke="#e8404a" stroke-width="1.0" />
<path d="M619.4,190.9 L624.1,198.5 L614.7,198.5 Z" fill="#e8404a"/>
<line x1="615.6" y1="194.4" x2="623.2" y2="194.4" stroke="#e8404a" stroke-width="1.0" />
<path d="M645.55,191.8 L650.25,199.8 L640.85,199.8 Z" fill="#e8404a"/>
<line x1="641.75" y1="195.5" x2="649.35" y2="195.5" stroke="#e8404a" stroke-width="1.0" />
<path d="M671.7,202.8 L676.4,210.2 L667,210.2 Z" fill="#e8404a"/>
<path d="M419.1,232.85 H684.4" fill="none" stroke="#555" stroke-width="1.7"/>
<path d="M423.6,232.7 V13.5 H684.4 V232.7" fill="none" stroke="#231f20" stroke-width="1.2"/>
<line x1="436.35" y1="232.7" x2="436.35" y2="234.9" stroke="#231f20" stroke-width="1.2" />
<line x1="462.5" y1="232.7" x2="462.5" y2="236.7" stroke="#231f20" stroke-width="1.2" />
<text x="463.1" y="254.4" font-size="16" text-anchor="middle" fill="#231f20" font-weight="normal" font-style="normal" >2</text>
<line x1="488.65" y1="232.7" x2="488.65" y2="234.9" stroke="#231f20" stroke-width="1.2" />
<line x1="514.8" y1="232.7" x2="514.8" y2="236.7" stroke="#231f20" stroke-width="1.2" />
<text x="514.75" y="254.4" font-size="16" text-anchor="middle" fill="#231f20" font-weight="normal" font-style="normal" >4</text>
<line x1="540.95" y1="232.7" x2="540.95" y2="234.9" stroke="#231f20" stroke-width="1.2" />
<line x1="567.1" y1="232.7" x2="567.1" y2="236.7" stroke="#231f20" stroke-width="1.2" />
<text x="567.4" y="254.4" font-size="16" text-anchor="middle" fill="#231f20" font-weight="normal" font-style="normal" >6</text>
<line x1="593.25" y1="232.7" x2="593.25" y2="234.9" stroke="#231f20" stroke-width="1.2" />
<line x1="619.4" y1="232.7" x2="619.4" y2="236.7" stroke="#231f20" stroke-width="1.2" />
<text x="619.8" y="254.4" font-size="16" text-anchor="middle" fill="#231f20" font-weight="normal" font-style="normal" >8</text>
<line x1="645.55" y1="232.7" x2="645.55" y2="234.9" stroke="#231f20" stroke-width="1.2" />
<line x1="671.7" y1="232.7" x2="671.7" y2="236.7" stroke="#231f20" stroke-width="1.2" />
<text x="674.1" y="254.4" font-size="16" text-anchor="middle" fill="#231f20" font-weight="normal" font-style="normal" >10</text>
<line x1="419.1" y1="232.7" x2="423.6" y2="232.7" stroke="#231f20" stroke-width="1.2" />
<text x="415.8" y="236" font-size="16" text-anchor="end" fill="#231f20" font-weight="normal" font-style="normal" >0.4</text>
<line x1="421.3" y1="196.17" x2="423.6" y2="196.17" stroke="#231f20" stroke-width="1.2" />
<line x1="419.1" y1="159.64" x2="423.6" y2="159.64" stroke="#231f20" stroke-width="1.2" />
<text x="415.8" y="162.94" font-size="16" text-anchor="end" fill="#231f20" font-weight="normal" font-style="normal" >0.8</text>
<line x1="421.3" y1="123.1" x2="423.6" y2="123.1" stroke="#231f20" stroke-width="1.2" />
<line x1="419.1" y1="86.57" x2="423.6" y2="86.57" stroke="#231f20" stroke-width="1.2" />
<text x="415.8" y="89.87" font-size="16" text-anchor="end" fill="#231f20" font-weight="normal" font-style="normal" >1.2</text>
<line x1="421.3" y1="50.03" x2="423.6" y2="50.03" stroke="#231f20" stroke-width="1.2" />
<line x1="419.1" y1="13.5" x2="423.6" y2="13.5" stroke="#231f20" stroke-width="1.2" />
<text x="415.8" y="16.8" font-size="16" text-anchor="end" fill="#231f20" font-weight="normal" font-style="normal" >1.6</text>
<text x="568.8" y="272.1" font-size="16" text-anchor="middle" fill="#231f20" font-weight="normal" font-style="normal" >AC amplitude (V)</text>
<text x="0" y="0" font-size="16" text-anchor="middle" fill="#231f20" font-weight="normal" font-style="normal" transform="translate(385.1,124) rotate(-90)">Relative intensity (×100%)</text>
<text x="629" y="90.5" font-size="15.8" text-anchor="start" fill="#2b2b2b" font-weight="normal" font-style="normal" >Bright</text>
<text x="632.8" y="181.7" font-size="16" text-anchor="start" fill="#ea1d27" font-weight="normal" font-style="normal" >Dark</text>
<text x="360" y="13.8" font-size="16" text-anchor="start" fill="#231f20" font-weight="bold" font-style="normal" >b</text>
<clipPath id="clipd"><rect x="423.6" y="311.9" width="260.8" height="219.2"/></clipPath>
<g clip-path="url(#clipd)">
<path d="M424.1,380.13V411.08 M426.2,375.07V406.42 M428.3,379.66V415.27 M430.4,380.33V407.38 M432.5,371.06V412.22 M434.6,376.96V411.11 M436.7,373.77V408.76 M438.8,379.1V413.8 M440.9,373.42V411.06 M443,371.77V411.41 M445.1,369.92V407.99 M447.2,374.24V410.73 M449.3,376.19V411.77 M451.4,377.29V413.83 M453.5,370.58V407.17 M455.6,374.61V408.62 M457.7,378.48V414.71 M459.8,374.73V407.31 M461.9,372.06V407.83 M464,369.56V407.96 M466.1,378.47V407.78 M468.2,375.08V410.41 M470.3,369.11V412.64 M472.4,374.88V405.91 M474.5,376.61V415.56 M476.6,373.36V412.53 M478.7,377.44V406.03 M480.8,369.07V411.47 M482.9,374.53V408.79 M485,376.69V407.34 M487.1,377.23V413.9 M489.2,372.49V406.86 M491.3,369.52V407.52 M493.4,376.44V411.47 M495.5,367.62V405.82 M497.6,368.44V407.41 M499.7,375.72V405.69 M501.8,373.5V412.67 M503.9,371.28V413.89 M506,374.03V408.57 M508.1,373.47V415.09 M510.2,366.22V408.79 M512.3,371.35V408.51 M514.4,367.98V405.79 M516.5,374.92V409.36 M518.6,372.94V413.69 M520.7,367.63V410.72 M522.8,368.34V412.15 M524.9,366.96V414.45 M527,373.4V411.46 M529.1,373.33V409.64 M531.2,366.51V414.07 M533.3,366.66V405.58 M535.4,370.69V406.82 M537.5,363.9V406.62 M539.6,371.62V408.7 M541.7,373.4V413.75 M543.8,367.27V406.72 M545.9,368.58V405.9 M548,367.27V407.39 M550.1,373.1V406.23 M552.2,367.59V411.36 M554.3,369.85V411.4 M556.4,369.44V406.33 M558.5,369.69V408.92 M560.6,363.33V406.14 M562.7,371.81V410.52 M564.8,362.54V413.92 M566.9,365.15V405.61 M569,363.91V411.67 M571.1,370.67V409.5 M573.2,371.53V412.8 M575.3,364.42V412.81 M577.4,363.86V407.5 M579.5,363.42V407.3 M581.6,370.07V408.68 M583.7,366.19V407.63 M585.8,364.94V410.73 M587.9,368.61V410.91 M590,367.26V412 M592.1,367.82V412.62 M594.2,366.39V410.18 M596.3,363.57V409.81 M598.4,367.76V414.34 M600.5,369.31V407.87 M602.6,364.46V404.93 M604.7,368.44V412.51 M606.8,361.75V410.89 M608.9,360.39V412.05 M611,366.54V410.94 M613.1,365.98V411.96 M615.2,365.38V406.05 M617.3,360.13V411.33 M619.4,361.37V410.03 M621.5,360.83V408.91 M623.6,362.96V405.09 M625.7,362.94V412.49 M627.8,361.24V412.36 M629.9,363.29V413.11 M632,367.19V413.04 M634.1,364.32V405.28 M636.2,361.61V408.85 M638.3,363.46V412.75 M640.4,366.36V410.41 M642.5,363.35V409.52 M644.6,362.33V405.62 M646.7,362.06V412.78 M648.8,365.48V404.37 M650.9,366.42V408.78 M653,356.85V404.66 M655.1,356.54V409.49 M657.2,365.48V408.32 M659.3,364.44V411.21 M661.4,360.83V406.99 M663.5,363.67V412.69 M665.6,358.22V408.42 M667.7,361.84V411.37 M669.8,355.83V404.87 M671.9,364.14V407.64 M674,360.38V404.75 M676.1,364.98V406.19 M678.2,361.38V411.3 M680.3,358.92V404.28 M682.4,364.67V408.43" stroke="#1a1a1a" stroke-width="1" fill="none"/>
<path d="M423.6,395.23 L423.93,394.25 L424.26,394.23 L424.59,394.32 L424.92,393.28 L425.25,392.69 L425.58,394.32 L425.91,393.45 L426.24,393.24 L426.58,393.4 L426.91,393.13 L427.24,394.21 L427.57,393.33 L427.9,392.33 L428.23,393.25 L428.56,394.32 L428.89,393.37 L429.22,392.85 L429.55,393.52 L429.88,394.21 L430.21,392.58 L430.54,394.71 L430.87,393.35 L431.2,393.73 L431.53,394.61 L431.87,392.75 L432.2,393.4 L432.53,394.54 L432.86,393.17 L433.19,393.95 L433.52,395.06 L433.85,394.11 L434.18,393.36 L434.51,393.06 L434.84,393.4 L435.17,393.48 L435.5,393.14 L435.83,393.64 L436.16,392.56 L436.49,393.33 L436.82,393.21 L437.15,393 L437.49,394.21 L437.82,393.93 L438.15,392.19 L438.48,393.09 L438.81,393.55 L439.14,393.05 L439.47,393.67 L439.8,393.07 L440.13,393.77 L440.46,393.04 L440.79,394.44 L441.12,392.19 L441.45,393.59 L441.78,394.39 L442.11,393.34 L442.44,393.43 L442.77,393.01 L443.11,393.99 L443.44,392.79 L443.77,390.3 L444.1,394.04 L444.43,392.79 L444.76,393.27 L445.09,392.87 L445.42,394.39 L445.75,393.86 L446.08,392.61 L446.41,392.98 L446.74,391.68 L447.07,393.45 L447.4,392.76 L447.73,390.64 L448.06,393.45 L448.4,393.54 L448.73,392.86 L449.06,392.85 L449.39,392.15 L449.72,392.68 L450.05,393.34 L450.38,392.58 L450.71,390.7 L451.04,391.74 L451.37,394.83 L451.7,392.79 L452.03,393.33 L452.36,392.17 L452.69,392.76 L453.02,391.13 L453.35,391.88 L453.68,391.9 L454.02,392.42 L454.35,392.58 L454.68,392.27 L455.01,391.52 L455.34,392.09 L455.67,392.75 L456,391.48 L456.33,392.3 L456.66,392.49 L456.99,393.02 L457.32,392.83 L457.65,392.87 L457.98,394.5 L458.31,391.56 L458.64,391.89 L458.97,392.48 L459.3,391.49 L459.64,391.94 L459.97,391.98 L460.3,394.14 L460.63,392.41 L460.96,391.8 L461.29,390.96 L461.62,390.77 L461.95,391.07 L462.28,393.04 L462.61,393.81 L462.94,391.67 L463.27,392.07 L463.6,391.34 L463.93,392.16 L464.26,391.88 L464.59,393.18 L464.93,391.67 L465.26,392.33 L465.59,391.71 L465.92,391.61 L466.25,392.03 L466.58,391.68 L466.91,391.92 L467.24,391.31 L467.57,391.49 L467.9,392.28 L468.23,392.29 L468.56,390.49 L468.89,391.89 L469.22,391.03 L469.55,391.47 L469.88,392.19 L470.21,392.32 L470.55,391.63 L470.88,391.51 L471.21,391.22 L471.54,392.65 L471.87,392.12 L472.2,391.72 L472.53,390.4 L472.86,393.42 L473.19,391.26 L473.52,391.99 L473.85,391.23 L474.18,391.92 L474.51,391.25 L474.84,390.31 L475.17,391.22 L475.5,391.14 L475.83,391.17 L476.17,392.02 L476.5,391.01 L476.83,391.57 L477.16,392.01 L477.49,391.4 L477.82,391.53 L478.15,390.76 L478.48,391.36 L478.81,391.71 L479.14,390.17 L479.47,390.52 L479.8,390.28 L480.13,390.77 L480.46,391.31 L480.79,391.53 L481.12,391.41 L481.46,390.45 L481.79,391.07 L482.12,392.28 L482.45,391.15 L482.78,392.19 L483.11,390.96 L483.44,392 L483.77,392.03 L484.1,390.95 L484.43,391.08 L484.76,392.28 L485.09,390.42 L485.42,389.31 L485.75,392.09 L486.08,389.54 L486.41,391.45 L486.74,391.29 L487.08,391.03 L487.41,391.98 L487.74,389.86 L488.07,390.46 L488.4,391.4 L488.73,391.02 L489.06,391.95 L489.39,391.04 L489.72,390.04 L490.05,392.06 L490.38,391.06 L490.71,390.59 L491.04,389.89 L491.37,389.64 L491.7,391.01 L492.03,391.21 L492.36,390.28 L492.7,390.88 L493.03,390.83 L493.36,389.74 L493.69,389.26 L494.02,390.33 L494.35,390.67 L494.68,390.07 L495.01,391.94 L495.34,390.49 L495.67,391.27 L496,388.61 L496.33,389.87 L496.66,390.3 L496.99,390.54 L497.32,392.3 L497.65,389.81 L497.99,389.09 L498.32,390.88 L498.65,389.78 L498.98,389.73 L499.31,391.46 L499.64,389.54 L499.97,389.2 L500.3,390.05 L500.63,390.25 L500.96,389.58 L501.29,391.35 L501.62,390.08 L501.95,389.33 L502.28,391.07 L502.61,389.34 L502.94,390.41 L503.27,391.67 L503.61,390.14 L503.94,390.78 L504.27,389.78 L504.6,390.9 L504.93,389.18 L505.26,390.54 L505.59,389.68 L505.92,390.39 L506.25,390.17 L506.58,388.99 L506.91,389.72 L507.24,390.17 L507.57,390.81 L507.9,388.95 L508.23,389.26 L508.56,390.05 L508.89,389.6 L509.23,390.56 L509.56,390.53 L509.89,390.37 L510.22,389.45 L510.55,389.48 L510.88,390.26 L511.21,389.1 L511.54,389.05 L511.87,389.5 L512.2,388.82 L512.53,389.82 L512.86,389.67 L513.19,389.21 L513.52,389.58 L513.85,388.93 L514.18,390.48 L514.51,388.41 L514.85,390.09 L515.18,389.6 L515.51,390.51 L515.84,388.98 L516.17,388.44 L516.5,388.58 L516.83,388.75 L517.16,390.56 L517.49,389.95 L517.82,389.69 L518.15,390.04 L518.48,388.44 L518.81,389.14 L519.14,389.29 L519.47,388.88 L519.8,389.96 L520.14,389.92 L520.47,389.88 L520.8,388.8 L521.13,388.91 L521.46,388.71 L521.79,388.31 L522.12,390.16 L522.45,389.53 L522.78,388.97 L523.11,390.1 L523.44,389.46 L523.77,388.26 L524.1,388.17 L524.43,388.17 L524.76,388.95 L525.09,389.13 L525.42,388.12 L525.76,389.22 L526.09,388.66 L526.42,387.88 L526.75,389.17 L527.08,389.34 L527.41,388.86 L527.74,388.37 L528.07,388.45 L528.4,388.68 L528.73,388.36 L529.06,389.99 L529.39,389.41 L529.72,388.61 L530.05,389.43 L530.38,389.73 L530.71,389.61 L531.05,389.37 L531.38,388.79 L531.71,389.42 L532.04,388.44 L532.37,387.3 L532.7,388.7 L533.03,387.59 L533.36,388.33 L533.69,389.39 L534.02,388.71 L534.35,389.25 L534.68,387.89 L535.01,389.35 L535.34,387.43 L535.67,387.99 L536,389.97 L536.33,387.8 L536.67,387.19 L537,388.97 L537.33,387.59 L537.66,389.71 L537.99,388.12 L538.32,389.57 L538.65,387.91 L538.98,389.64 L539.31,390.27 L539.64,387.93 L539.97,386.46 L540.3,388.66 L540.63,387.54 L540.96,388.08 L541.29,388.4 L541.62,387.66 L541.95,386.85 L542.29,389.05 L542.62,387.65 L542.95,387.8 L543.28,389.14 L543.61,386.79 L543.94,386.52 L544.27,388.73 L544.6,386.65 L544.93,387.92 L545.26,388.07 L545.59,386.78 L545.92,387.74 L546.25,387.65 L546.58,386.72 L546.91,386.88 L547.24,387.16 L547.58,388.91 L547.91,389.02 L548.24,386.93 L548.57,388.49 L548.9,387.65 L549.23,388.57 L549.56,387.87 L549.89,388.69 L550.22,386.45 L550.55,388.46 L550.88,387.76 L551.21,387.79 L551.54,386.7 L551.87,388.7 L552.2,387.62 L552.53,387.74 L552.86,387.16 L553.2,387.18 L553.53,387.89 L553.86,387.33 L554.19,387.78 L554.52,387.12 L554.85,387.54 L555.18,387.95 L555.51,387.45 L555.84,387.13 L556.17,385.66 L556.5,387.76 L556.83,387.13 L557.16,386.22 L557.49,388.92 L557.82,388.65 L558.15,388.21 L558.48,387.37 L558.82,385.39 L559.15,386.95 L559.48,386.3 L559.81,387.38 L560.14,389.09 L560.47,388.95 L560.8,386.38 L561.13,387 L561.46,388.12 L561.79,386.25 L562.12,388.28 L562.45,386.21 L562.78,385.95 L563.11,387.63 L563.44,387.88 L563.77,386.36 L564.11,387.83 L564.44,386.32 L564.77,387.88 L565.1,386.32 L565.43,386.86 L565.76,387.24 L566.09,387.58 L566.42,386.7 L566.75,388.31 L567.08,387.06 L567.41,387.13 L567.74,386.29 L568.07,387.76 L568.4,385.46 L568.73,387 L569.06,387.62 L569.39,385.66 L569.73,385.43 L570.06,386.84 L570.39,387.36 L570.72,386.65 L571.05,387.17 L571.38,386.87 L571.71,385.41 L572.04,386.29 L572.37,386.47 L572.7,386.29 L573.03,386.59 L573.36,385.88 L573.69,385.84 L574.02,386.78 L574.35,386.4 L574.68,384.61 L575.01,386.12 L575.35,386.57 L575.68,384.84 L576.01,386.39 L576.34,387.22 L576.67,385.84 L577,387.03 L577.33,386.71 L577.66,386.06 L577.99,386.39 L578.32,386.86 L578.65,386.68 L578.98,386.7 L579.31,385.33 L579.64,386.76 L579.97,386.63 L580.3,384.61 L580.63,386.58 L580.97,385 L581.3,385.12 L581.63,386.23 L581.96,387.18 L582.29,385.73 L582.62,385.54 L582.95,385.3 L583.28,385.97 L583.61,385.08 L583.94,384.92 L584.27,386.78 L584.6,384.86 L584.93,385.81 L585.26,386.36 L585.59,386.15 L585.92,384.45 L586.26,385.12 L586.59,387.23 L586.92,385.78 L587.25,385.93 L587.58,385.94 L587.91,386.18 L588.24,386.89 L588.57,385.1 L588.9,386.46 L589.23,386.01 L589.56,386.17 L589.89,386.25 L590.22,385.1 L590.55,385.36 L590.88,386.16 L591.21,386.35 L591.54,385.97 L591.88,384.85 L592.21,385.48 L592.54,385.38 L592.87,385.79 L593.2,385.72 L593.53,385.34 L593.86,386.9 L594.19,384.24 L594.52,386.06 L594.85,385.88 L595.18,384.4 L595.51,385.24 L595.84,385.36 L596.17,385.82 L596.5,386.55 L596.83,385.2 L597.16,384.41 L597.5,386 L597.83,384.24 L598.16,386.14 L598.49,385.82 L598.82,384.85 L599.15,385.22 L599.48,384.68 L599.81,385.76 L600.14,385.96 L600.47,386.59 L600.8,386.06 L601.13,385.95 L601.46,386.2 L601.79,384.85 L602.12,385.58 L602.45,386.58 L602.79,383.13 L603.12,385.66 L603.45,385.97 L603.78,384.04 L604.11,384.08 L604.44,385.84 L604.77,386.07 L605.1,385.69 L605.43,384.04 L605.76,385.13 L606.09,385.49 L606.42,384.88 L606.75,383.91 L607.08,385.89 L607.41,385.1 L607.74,385.85 L608.07,383.1 L608.41,383.36 L608.74,384.01 L609.07,384.82 L609.4,384.2 L609.73,386.3 L610.06,384.46 L610.39,385.68 L610.72,385.65 L611.05,385.16 L611.38,384.87 L611.71,384.15 L612.04,384.03 L612.37,384.35 L612.7,385.26 L613.03,384 L613.36,384.6 L613.7,383.58 L614.03,385.17 L614.36,386.57 L614.69,384.8 L615.02,382.77 L615.35,384.04 L615.68,384.54 L616.01,383.69 L616.34,383.97 L616.67,383.98 L617,384.71 L617.33,384.24 L617.66,384.13 L617.99,384.76 L618.32,385.11 L618.65,384.13 L618.98,383.48 L619.32,383.71 L619.65,383.81 L619.98,383.78 L620.31,382.17 L620.64,383.94 L620.97,383.32 L621.3,382.6 L621.63,384.04 L621.96,383.87 L622.29,383.25 L622.62,382.74 L622.95,383.78 L623.28,383.72 L623.61,383.92 L623.94,384.89 L624.27,383.09 L624.6,384.13 L624.94,385.24 L625.27,384.01 L625.6,385.21 L625.93,384.64 L626.26,383.84 L626.59,384.54 L626.92,382.99 L627.25,384.92 L627.58,383.58 L627.91,383.33 L628.24,382.63 L628.57,383.02 L628.9,383.53 L629.23,383.63 L629.56,383.72 L629.89,382.79 L630.23,384.15 L630.56,383.23 L630.89,383.68 L631.22,383.41 L631.55,383.78 L631.88,381.92 L632.21,384.05 L632.54,383.33 L632.87,383.3 L633.2,383.03 L633.53,383.13 L633.86,383.13 L634.19,382.69 L634.52,384.58 L634.85,383.4 L635.18,384.34 L635.51,383.2 L635.85,384.26 L636.18,384.08 L636.51,383.37 L636.84,382.24 L637.17,382.85 L637.5,383.05 L637.83,382.18 L638.16,383.96 L638.49,384.83 L638.82,383.53 L639.15,383.4 L639.48,382.23 L639.81,381.51 L640.14,384.16 L640.47,381.22 L640.8,381.91 L641.13,382.45 L641.47,382.79 L641.8,381.19 L642.13,382.98 L642.46,383.39 L642.79,382.9 L643.12,384.04 L643.45,382.61 L643.78,383.04 L644.11,382.68 L644.44,382.64 L644.77,383.72 L645.1,381.88 L645.43,383.65 L645.76,382.17 L646.09,384.06 L646.42,382.54 L646.75,383.43 L647.09,382.75 L647.42,383.27 L647.75,384.43 L648.08,383.59 L648.41,382.67 L648.74,382.22 L649.07,383.81 L649.4,384.3 L649.73,383.32 L650.06,382.8 L650.39,383.1 L650.72,383.22 L651.05,381.93 L651.38,381.83 L651.71,381.98 L652.04,383.26 L652.38,382.46 L652.71,382.65 L653.04,383.58 L653.37,381.79 L653.7,382.38 L654.03,382.81 L654.36,381.33 L654.69,381.82 L655.02,381.73 L655.35,381.45 L655.68,381.8 L656.01,383.31 L656.34,382.62 L656.67,381.53 L657,382.88 L657.33,382.24 L657.66,381.95 L658,381.13 L658.33,381.22 L658.66,381.51 L658.99,382.33 L659.32,381.47 L659.65,381.75 L659.98,382.26 L660.31,381.08 L660.64,381.72 L660.97,382.67 L661.3,381.1 L661.63,382.25 L661.96,381.58 L662.29,383.19 L662.62,382.02 L662.95,382.71 L663.29,382.72 L663.62,383.42 L663.95,380.29 L664.28,382.04 L664.61,381.72 L664.94,381.04 L665.27,381.96 L665.6,381.46 L665.93,382.88 L666.26,381.67 L666.59,382.12 L666.92,381.4 L667.25,381.63 L667.58,382.82 L667.91,383.16 L668.24,382.5 L668.57,381.14 L668.91,381.36 L669.24,381.36 L669.57,383.2 L669.9,383.7 L670.23,382.1 L670.56,381.86 L670.89,382.05 L671.22,381.3 L671.55,381.69 L671.88,382.45 L672.21,382.2 L672.54,381.4 L672.87,381.43 L673.2,381.53 L673.53,379.72 L673.86,381.64 L674.19,381.33 L674.53,382.17 L674.86,381.67 L675.19,380.97 L675.52,380.92 L675.85,381.46 L676.18,381.02 L676.51,381.27 L676.84,382.74 L677.17,383.79 L677.5,379.49 L677.83,380.61 L678.16,381.27 L678.49,382.54 L678.82,382.17 L679.15,380.14 L679.48,383.3 L679.82,381.39 L680.15,380.46 L680.48,381 L680.81,380.51 L681.14,381.18 L681.47,379.22 L681.8,381.83 L682.13,382.07 L682.46,380.8 L682.79,379.9 L683.12,381.02 L683.45,380.15 L683.78,381.35 L684.11,381.84 L684.44,379.83 L684.77,379.69 L685.1,379.7 L685.44,381.2 L685.77,381.73" fill="none" stroke="#0a0a0a" stroke-width="5.4" stroke-linejoin="round" />
</g>
<path d="M419.1,311.9 H684.4 M419.1,531.1 H684.4" fill="none" stroke="#555" stroke-width="1.7"/>
<path d="M423.6,311.9 V531.1 M684.4,311.9 V531.1" fill="none" stroke="#231f20" stroke-width="1.2"/>
<line x1="423.6" y1="531.1" x2="423.6" y2="535.1" stroke="#231f20" stroke-width="1.2" />
<text x="423.85" y="549.1" font-size="16" text-anchor="middle" fill="#231f20" font-weight="normal" font-style="normal" >0</text>
<line x1="445.64" y1="531.1" x2="445.64" y2="533.3" stroke="#231f20" stroke-width="1.2" />
<line x1="467.68" y1="531.1" x2="467.68" y2="535.1" stroke="#231f20" stroke-width="1.2" />
<text x="469.1" y="549.1" font-size="16" text-anchor="middle" fill="#231f20" font-weight="normal" font-style="normal" >200</text>
<line x1="489.72" y1="531.1" x2="489.72" y2="533.3" stroke="#231f20" stroke-width="1.2" />
<line x1="511.76" y1="531.1" x2="511.76" y2="535.1" stroke="#231f20" stroke-width="1.2" />
<text x="513.25" y="549.1" font-size="16" text-anchor="middle" fill="#231f20" font-weight="normal" font-style="normal" >400</text>
<line x1="533.8" y1="531.1" x2="533.8" y2="533.3" stroke="#231f20" stroke-width="1.2" />
<line x1="555.84" y1="531.1" x2="555.84" y2="535.1" stroke="#231f20" stroke-width="1.2" />
<text x="557.3" y="549.1" font-size="16" text-anchor="middle" fill="#231f20" font-weight="normal" font-style="normal" >600</text>
<line x1="577.88" y1="531.1" x2="577.88" y2="533.3" stroke="#231f20" stroke-width="1.2" />
<line x1="599.92" y1="531.1" x2="599.92" y2="535.1" stroke="#231f20" stroke-width="1.2" />
<text x="601.35" y="549.1" font-size="16" text-anchor="middle" fill="#231f20" font-weight="normal" font-style="normal" >800</text>
<line x1="621.96" y1="531.1" x2="621.96" y2="533.3" stroke="#231f20" stroke-width="1.2" />
<line x1="644" y1="531.1" x2="644" y2="535.1" stroke="#231f20" stroke-width="1.2" />
<text x="646.6" y="549.1" font-size="16" text-anchor="middle" fill="#231f20" font-weight="normal" font-style="normal" >1000</text>
<line x1="666.04" y1="531.1" x2="666.04" y2="533.3" stroke="#231f20" stroke-width="1.2" />
<line x1="419.1" y1="531.1" x2="423.6" y2="531.1" stroke="#231f20" stroke-width="1.2" />
<text x="412.8" y="535.3" font-size="16" text-anchor="end" fill="#231f20" font-weight="normal" font-style="normal" >0</text>
<line x1="421.3" y1="503.7" x2="423.6" y2="503.7" stroke="#231f20" stroke-width="1.2" />
<line x1="419.1" y1="476.3" x2="423.6" y2="476.3" stroke="#231f20" stroke-width="1.2" />
<text x="412.8" y="480.5" font-size="16" text-anchor="end" fill="#231f20" font-weight="normal" font-style="normal" >5</text>
<line x1="421.3" y1="448.9" x2="423.6" y2="448.9" stroke="#231f20" stroke-width="1.2" />
<line x1="419.1" y1="421.5" x2="423.6" y2="421.5" stroke="#231f20" stroke-width="1.2" />
<text x="415" y="425.7" font-size="16" text-anchor="end" fill="#231f20" font-weight="normal" font-style="normal" >10</text>
<line x1="421.3" y1="394.1" x2="423.6" y2="394.1" stroke="#231f20" stroke-width="1.2" />
<line x1="419.1" y1="366.7" x2="423.6" y2="366.7" stroke="#231f20" stroke-width="1.2" />
<text x="415" y="370.9" font-size="16" text-anchor="end" fill="#231f20" font-weight="normal" font-style="normal" >15</text>
<line x1="421.3" y1="339.3" x2="423.6" y2="339.3" stroke="#231f20" stroke-width="1.2" />
<line x1="419.1" y1="311.9" x2="423.6" y2="311.9" stroke="#231f20" stroke-width="1.2" />
<text x="415" y="316.1" font-size="16" text-anchor="end" fill="#231f20" font-weight="normal" font-style="normal" >20</text>
<text x="556.3" y="569.9" font-size="16" text-anchor="middle" fill="#231f20" font-weight="normal" font-style="normal" >Time (s)</text>
<text x="0" y="0" font-size="16" text-anchor="middle" fill="#231f20" font-weight="normal" font-style="normal" transform="translate(390.1,410.1) rotate(-90)">Intensity (x10<tspan font-size="9.8" dy="-4.6" stroke="#231f20" stroke-width="0.3">4</tspan><tspan dy="4.6"> counts)</tspan></text>
<text x="360" y="312.7" font-size="16" text-anchor="start" fill="#231f20" font-weight="bold" font-style="normal" >d</text>
<text x="4.5" y="313" font-size="16" text-anchor="start" fill="#231f20" font-weight="bold" font-style="normal" >c</text>
<defs><linearGradient id="gold" x1="0" y1="0" x2="0" y2="1">
<stop offset="0" stop-color="#c1912d"/>
<stop offset="0.3" stop-color="#efb912"/>
<stop offset="0.55" stop-color="#eccb6c"/>
<stop offset="0.78" stop-color="#f4e2a4"/>
<stop offset="1" stop-color="#fdf8d0"/>
</linearGradient></defs>
<rect x="106.2" y="405.3" width="60.3" height="139" fill="url(#gold)"/>
<rect x="166.3" y="299.9" width="15.1" height="213.8" fill="#d1d2d4"/>
<path d="M166.4,406 L166.4,406 L166.54,408.12 L166.79,410.23 L167.11,412.35 L167.5,414.46 L167.94,416.57 L168.42,418.69 L168.95,420.81 L169.51,422.92 L170.11,425.04 L170.75,427.15 L171.42,429.26 L172.12,431.38 L172.85,433.5 L173.61,435.61 L174.39,437.73 L175.2,439.84 L176.04,441.95 L176.91,444.07 L177.79,446.19 L178.7,448.3 L179.64,450.42 L180.59,452.53 L181.57,454.65 L182.57,456.76 L183.59,458.88 L184.64,460.99 L185.7,463.11 L186.78,465.22 L187.88,467.34 L189,469.45 L190.14,471.57 L191.3,473.68 L192.48,475.8 L193.67,477.91 L194.88,480.03 L196.11,482.14 L197.36,484.25 L198.62,486.37 L199.9,488.49 L201.2,490.6 L166.4,490.6 Z" fill="#ef6e3c" fill-opacity="0.44"/>
<line x1="166.4" y1="412.3" x2="167.11" y2="412.3" stroke="#ed1c24" stroke-width="1.15" stroke-dasharray="2.5 1.6"/>
<line x1="166.4" y1="416.6" x2="167.94" y2="416.6" stroke="#ed1c24" stroke-width="1.15" stroke-dasharray="2.5 1.6"/>
<line x1="166.4" y1="422.4" x2="169.37" y2="422.4" stroke="#ed1c24" stroke-width="1.15" stroke-dasharray="2.5 1.6"/>
<line x1="166.4" y1="428.1" x2="171.05" y2="428.1" stroke="#ed1c24" stroke-width="1.15" stroke-dasharray="2.5 1.6"/>
<line x1="166.4" y1="433.9" x2="172.99" y2="433.9" stroke="#ed1c24" stroke-width="1.15" stroke-dasharray="2.5 1.6"/>
<line x1="166.4" y1="439.7" x2="175.15" y2="439.7" stroke="#ed1c24" stroke-width="1.15" stroke-dasharray="2.5 1.6"/>
<line x1="166.4" y1="445.5" x2="177.5" y2="445.5" stroke="#ed1c24" stroke-width="1.15" stroke-dasharray="2.5 1.6"/>
<line x1="166.4" y1="451.3" x2="180.04" y2="451.3" stroke="#ed1c24" stroke-width="1.15" stroke-dasharray="2.5 1.6"/>
<line x1="166.4" y1="457.1" x2="182.74" y2="457.1" stroke="#ed1c24" stroke-width="1.15" stroke-dasharray="2.5 1.6"/>
<line x1="166.4" y1="462.9" x2="185.6" y2="462.9" stroke="#ed1c24" stroke-width="1.15" stroke-dasharray="2.5 1.6"/>
<line x1="166.4" y1="468.6" x2="188.55" y2="468.6" stroke="#ed1c24" stroke-width="1.15" stroke-dasharray="2.5 1.6"/>
<line x1="166.4" y1="473.5" x2="191.2" y2="473.5" stroke="#ed1c24" stroke-width="1.15" stroke-dasharray="2.5 1.6"/>
<line x1="166.4" y1="479.4" x2="194.52" y2="479.4" stroke="#ed1c24" stroke-width="1.15" stroke-dasharray="2.5 1.6"/>
<line x1="166.4" y1="485" x2="197.8" y2="485" stroke="#ed1c24" stroke-width="1.15" stroke-dasharray="2.5 1.6"/>
<path d="M182.5,332.6 Q195.2,381.4 207.9,381.4 L283.8,381.4" fill="none" stroke="#2e2e2e" stroke-width="1.4"/>
<path d="M182.5,332.6 L182.5,444 Q195.2,492.8 207.9,492.8 L284,492.8" fill="none" stroke="#2e2e2e" stroke-width="1.4" stroke-linejoin="round"/>
<line x1="61.8" y1="403" x2="104.9" y2="403" stroke="#7a7a7a" stroke-width="1.8" />
<line x1="61.8" y1="511.9" x2="104.9" y2="511.9" stroke="#7a7a7a" stroke-width="1.8" />
<line x1="82.1" y1="405.3" x2="82.1" y2="501" stroke="#444" stroke-width="1.6" stroke-dasharray="1.8 2.1"/>
<path d="M82,509 L78.1,500 Q82,502.2 85.9,500 Z" fill="#231f20"/>
<path d="M181.3,495.6 C182,512 190,523 202,523 C212,523 222,515 229.5,510.5" fill="none" stroke="#e51e28" stroke-width="1.8"/>
<path d="M236.8,505.1 L224.6,507.4 L229.6,510.6 L231.2,516.8 Z" fill="#e51e28"/>
<text x="128.6" y="395.6" font-size="16.6" text-anchor="start" fill="#231f20" font-weight="normal" font-style="italic" >E</text>
<text x="139.4" y="401" font-size="10.2" text-anchor="start" fill="#231f20" font-weight="normal" font-style="normal" >F</text>
<text x="292.8" y="385.7" font-size="16.6" text-anchor="start" fill="#231f20" font-weight="normal" font-style="italic" >E</text>
<text x="303" y="391.1" font-size="10.2" text-anchor="start" fill="#231f20" font-weight="normal" font-style="normal" >C</text>
<text x="292.6" y="501.3" font-size="16.6" text-anchor="start" fill="#231f20" font-weight="normal" font-style="italic" >E</text>
<text x="302.5" y="506" font-size="10.2" text-anchor="start" fill="#231f20" font-weight="normal" font-style="normal" >V</text>
<text x="193.4" y="468.6" font-size="15.8" text-anchor="start" fill="#ea1d27" font-weight="normal" font-style="normal" >tDOS</text>
<text x="46.9" y="458.7" font-size="16.2" text-anchor="start" fill="#333" font-weight="normal" font-style="normal" >V</text>
<text x="58" y="464.2" font-size="9.6" text-anchor="start" fill="#333" font-weight="normal" font-style="normal" >bias</text>
<text x="151" y="571.5" font-size="16" text-anchor="start" fill="#333" font-weight="normal" font-style="normal" >Au-WS<tspan font-size="9.6" dy="5">2</tspan><tspan dy="-5"> interface</tspan></text>
</svg></body></html>
